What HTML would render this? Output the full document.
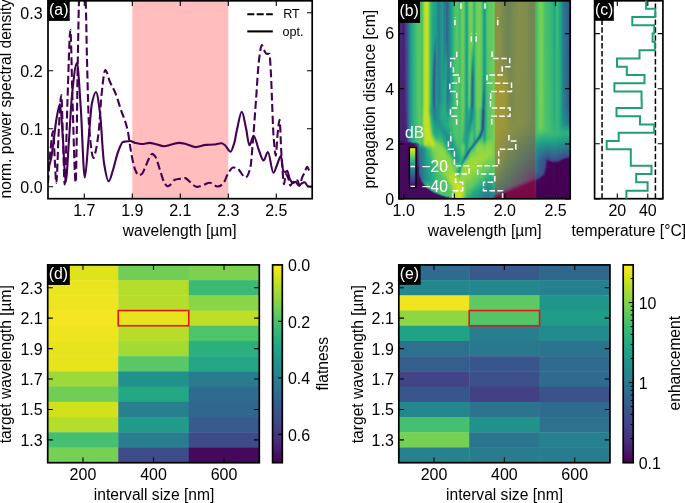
<!DOCTYPE html>
<html><head><meta charset="utf-8"><style>
html,body{margin:0;padding:0;background:#fff;}
svg{display:block;will-change:transform;}
text{font-family:"Liberation Sans", sans-serif;}
</style></head><body>
<svg width="685" height="503" viewBox="0 0 685 503">
<rect width="685" height="503" fill="#fff"/>
<clipPath id="ca"><rect x="48" y="0.8" width="264.2" height="197.9"/></clipPath>
<rect x="132.3" y="0.8" width="96" height="197.9" fill="rgba(255,0,0,0.26)"/>
<g clip-path="url(#ca)" fill="none" stroke="#440154" stroke-width="2.1" stroke-linejoin="round">
<path d="M48 183C48.83 172 49.67 157.85 50.5 150C51.37 141.83 52.23 131 53.1 131C53.67 131 54.23 150.86 54.8 160C55.3 168.07 55.8 183 56.3 183C57.13 183 57.97 144.05 58.8 130C59.63 115.95 60.47 95 61.3 95C61.87 95 62.43 125.1 63 140C63.57 154.9 64.13 184.4 64.7 184.4C65.63 184.4 66.57 125.04 67.5 100C68.47 74.07 69.43 30 70.4 30C71.1 30 71.8 79.47 72.5 100C73.57 131.29 74.63 182.5 75.7 182.5C76.4 182.5 77.1 97.43 77.8 60C78.2 38.61 78.6 11.5 79 0C80.1 -31.63 81.2 -60 82.3 -60C83.43 -60 84.57 -31 85.7 0C86.13 11.85 86.57 43.27 87 60C87.67 85.74 88.33 116.32 89 125C90.5 144.53 92 158 93.5 158C94.17 158 94.83 154.67 95.5 152C96.63 147.47 97.77 139.66 98.9 129.5C99.77 121.73 100.63 102.79 101.5 95C102.77 83.62 104.03 70 105.3 70C106.87 70 108.43 78.44 110 82C111.73 85.94 113.47 88.41 115.2 92.6C117.13 97.28 119.07 104.17 121 110C123.2 116.63 125.4 120.42 127.6 130C128.47 133.77 129.33 141.67 130.2 146.8C131.07 151.93 131.93 157.22 132.8 161C133.63 164.64 134.47 168.23 135.3 170.1C136.4 172.56 137.5 175.3 138.6 175.3C139.67 175.3 140.73 174.71 141.8 174C143.1 173.14 144.4 168.99 145.7 166.2C147 163.41 148.3 159.29 149.6 157.2C150.47 155.81 151.33 153.9 152.2 153.9C153.07 153.9 153.93 154.91 154.8 155.9C155.87 157.12 156.93 160.65 158 163.6C159.07 166.55 160.13 170.84 161.2 174C162.3 177.26 163.4 181.36 164.5 183C165.57 184.59 166.63 186.3 167.7 186.3C168.77 186.3 169.83 185.16 170.9 184.3C172.2 183.26 173.5 180.25 174.8 179.8C176.3 179.28 177.8 179.14 179.3 178.9C181.27 178.58 183.23 178.1 185.2 178.1C186.7 178.1 188.2 180.55 189.7 181.7C192.07 183.52 194.43 186.9 196.8 186.9C198.97 186.9 201.13 185.68 203.3 185C205.47 184.32 207.63 182.8 209.8 182.8C212.37 182.8 214.93 186.5 217.5 186.5C219.23 186.5 220.97 185.51 222.7 184.3C224.43 183.09 226.17 176.69 227.9 174C229.6 171.37 231.3 167.5 233 167.5C234.73 167.5 236.47 167.97 238.2 168.8C238.8 169.09 239.4 170.64 240 171.4C241.87 173.78 243.73 177.5 245.6 177.5C247.17 177.5 248.73 173.64 250.3 168C251.2 164.76 252.1 150.48 253 140C254 128.36 255 113.33 256 100C257 86.67 258 67.57 259 60C259.93 52.94 260.87 45.1 261.8 45.1C262.53 45.1 263.27 48.68 264 50C264.87 51.56 265.73 53.9 266.6 53.9C267.53 53.9 268.47 53.9 269.4 53.9C269.93 53.9 270.47 65.57 271 75C271.33 80.9 271.67 91.94 272 100C272.5 112.1 273 128.3 273.5 135C274.27 145.28 275.03 155.7 275.8 155.7C276.37 155.7 276.93 140.19 277.5 135C278.2 128.59 278.9 119.8 279.6 119.8C280.13 119.8 280.67 141.07 281.2 150C281.7 158.37 282.2 167 282.7 172.6C283.13 177.45 283.57 184.3 284 184.3C284.63 184.3 285.27 174 285.9 174C286.77 174 287.63 176.82 288.5 179C289.13 180.59 289.77 185.6 290.4 185.6C291.27 185.6 292.13 181.7 293 181.7C293.67 181.7 294.33 183 295 183C295.83 183 296.67 180.4 297.5 180.4C298.17 180.4 298.83 185.6 299.5 185.6C300.33 185.6 301.17 179.83 302 177.8C302.87 175.68 303.73 174.43 304.6 172.6C305.47 170.77 306.33 166.8 307.2 166.8C308.07 166.8 308.93 171.3 309.8 171.3C310.7 171.3 311.6 170.77 312.5 170.5" stroke-dasharray="8 3.6"/>
<path d="M48 168C48.93 165.33 49.87 163.74 50.8 160C51.7 156.39 52.6 148.49 53.5 142C54.43 135.27 55.37 125.28 56.3 120C57.53 113.03 58.77 104 60 104C61 104 62 126.18 63 140C63.87 151.98 64.73 182 65.6 182C66.73 182 67.87 155.39 69 140C70 126.42 71 104.4 72 95C73.63 79.65 75.27 63 76.9 63C78.13 63 79.37 88.18 80.6 105C82 124.09 83.4 177.5 84.8 177.5C86.03 177.5 87.27 152.77 88.5 140C89.67 127.92 90.83 108.16 92 103C93.33 97.1 94.67 92 96 92C97.33 92 98.67 103.14 100 113C101.33 122.86 102.67 154.85 104 163C105.53 172.37 107.07 181.3 108.6 181.3C110.07 181.3 111.53 174.38 113 170C114.67 165.02 116.33 156.29 118 152C119.67 147.71 121.33 142.54 123 142C123.67 141.78 124.33 141.7 125 141.6C126.73 141.34 128.47 141 130.2 141C131.9 141 133.6 142.5 135.3 142.9C137.47 143.41 139.63 144 141.8 144C144.4 144 147 142.9 149.6 142.9C151.73 142.9 153.87 143.72 156 144.2C158.6 144.79 161.2 146.2 163.8 146.2C166.4 146.2 169 145.05 171.6 144.5C174.17 143.95 176.73 142.9 179.3 142.9C181.7 142.9 184.1 143.65 186.5 144.2C189.5 144.89 192.5 147.1 195.5 147.1C198.97 147.1 202.43 145.18 205.9 144.9C208.47 144.69 211.03 144.7 213.6 144.5C216.2 144.3 218.8 143.3 221.4 143.3C222.7 143.3 224 144.52 225.3 145.5C227.03 146.81 228.77 151.7 230.5 151.7C231.77 151.7 233.03 146.99 234.3 142.9C235.17 140.1 236.03 133.75 236.9 130C238.53 122.94 240.17 111.7 241.8 111.7C243.2 111.7 244.6 121.81 246 128C247.13 133.01 248.27 145.3 249.4 145.3C250.83 145.3 252.27 135.9 253.7 135.9C255.4 135.9 257.1 145.85 258.8 150C260.4 153.9 262 160.5 263.6 160.5C265.03 160.5 266.47 152 267.9 152C269.73 152 271.57 172.7 273.4 172.7C274.6 172.7 275.8 167.67 277 165C278.33 162.03 279.67 155.7 281 155.7C281.77 155.7 282.53 170.9 283.3 171.3C284.17 171.76 285.03 172 285.9 172C286.33 172 286.77 170.7 287.2 170.7C288.07 170.7 288.93 177.54 289.8 179.1C290.87 181.02 291.93 183 293 183C293.87 183 294.73 181.7 295.6 181.7C296.67 181.7 297.73 185.6 298.8 185.6C299.67 185.6 300.53 184.07 301.4 183.6C302.47 183.03 303.53 182.3 304.6 182.3C305.7 182.3 306.8 185.93 307.9 186.2C309.43 186.58 310.97 186.6 312.5 186.8"/>
</g>
<rect x="48" y="0.8" width="264.2" height="197.9" fill="none" stroke="#000" stroke-width="1.7"/>
<path d="M84.3 198.7V193.5M84.3 0.8V6M132.3 198.7V193.5M132.3 0.8V6M180.3 198.7V193.5M180.3 0.8V6M228.3 198.7V193.5M228.3 0.8V6M276.3 198.7V193.5M276.3 0.8V6M48 186.8H53.2M312.2 186.8H307M48 128.8H53.2M312.2 128.8H307M48 70.8H53.2M312.2 70.8H307M48 12.8H53.2M312.2 12.8H307" stroke="#000" stroke-width="1.1" fill="none"/>
<text x="42.6" y="192.75" text-anchor="end" font-size="16" fill="#000" transform="translate(0 187.25) scale(1 1.05) translate(0 -187.25)">0.0</text>
<text x="42.6" y="134.75" text-anchor="end" font-size="16" fill="#000" transform="translate(0 129.25) scale(1 1.05) translate(0 -129.25)">0.1</text>
<text x="42.6" y="76.75" text-anchor="end" font-size="16" fill="#000" transform="translate(0 71.25) scale(1 1.05) translate(0 -71.25)">0.2</text>
<text x="42.6" y="18.75" text-anchor="end" font-size="16" fill="#000" transform="translate(0 13.25) scale(1 1.05) translate(0 -13.25)">0.3</text>
<text x="84.3" y="215.9" text-anchor="middle" font-size="16" fill="#000" transform="translate(0 210.4) scale(1 1.05) translate(0 -210.4)">1.7</text>
<text x="132.3" y="215.9" text-anchor="middle" font-size="16" fill="#000" transform="translate(0 210.4) scale(1 1.05) translate(0 -210.4)">1.9</text>
<text x="180.3" y="215.9" text-anchor="middle" font-size="16" fill="#000" transform="translate(0 210.4) scale(1 1.05) translate(0 -210.4)">2.1</text>
<text x="228.3" y="215.9" text-anchor="middle" font-size="16" fill="#000" transform="translate(0 210.4) scale(1 1.05) translate(0 -210.4)">2.3</text>
<text x="276.3" y="215.9" text-anchor="middle" font-size="16" fill="#000" transform="translate(0 210.4) scale(1 1.05) translate(0 -210.4)">2.5</text>
<text x="179.7" y="235.5" text-anchor="middle" font-size="15.6" fill="#000">wavelength [µm]</text>
<text x="10.9" y="98.8" text-anchor="middle" font-size="15.6" transform="rotate(-90 10.9 98.8)">norm. power spectral density</text>
<rect x="47.5" y="0.5" width="22.2" height="20.4" fill="#000"/><text x="49.1" y="14.6" font-size="15.8" fill="#fff">(a)</text>
<path d="M247.3 14.2H272.8" stroke="#000" stroke-width="2.1" stroke-dasharray="7 2.4"/>
<path d="M247.3 31.4H272.8" stroke="#000" stroke-width="2.1"/>
<text x="283.2" y="17.9" text-anchor="start" font-size="12.6" fill="#000">RT</text>
<text x="282.6" y="36.1" text-anchor="start" font-size="12.6" fill="#000">opt.</text>
<defs><linearGradient id="k0" x1="0" y1="0" x2="0" y2="1"><stop offset="0.0025" stop-color="#472d7b"/><stop offset="0.3593" stop-color="#482474"/><stop offset="0.7010" stop-color="#482071"/><stop offset="0.7060" stop-color="#460f62"/><stop offset="0.7412" stop-color="#45095c"/><stop offset="0.9975" stop-color="#45095c"/></linearGradient><linearGradient id="k1" x1="0" y1="0" x2="0" y2="1"><stop offset="0.0025" stop-color="#472d7b"/><stop offset="0.3593" stop-color="#482474"/><stop offset="0.7010" stop-color="#482172"/><stop offset="0.7111" stop-color="#460b5e"/><stop offset="0.9975" stop-color="#45095c"/></linearGradient><linearGradient id="k2" x1="0" y1="0" x2="0" y2="1"><stop offset="0.0025" stop-color="#472c7b"/><stop offset="0.7010" stop-color="#482373"/><stop offset="0.7060" stop-color="#481e6f"/><stop offset="0.7111" stop-color="#460d60"/><stop offset="0.9975" stop-color="#45095c"/></linearGradient><linearGradient id="k3" x1="0" y1="0" x2="0" y2="1"><stop offset="0.0025" stop-color="#472575"/><stop offset="0.7060" stop-color="#481f70"/><stop offset="0.7111" stop-color="#460e60"/><stop offset="0.9975" stop-color="#45095c"/></linearGradient><linearGradient id="k4" x1="0" y1="0" x2="0" y2="1"><stop offset="0.0025" stop-color="#481a6c"/><stop offset="0.3543" stop-color="#482373"/><stop offset="0.7060" stop-color="#481f70"/><stop offset="0.7111" stop-color="#460e60"/><stop offset="0.9975" stop-color="#45095c"/></linearGradient><linearGradient id="k5" x1="0" y1="0" x2="0" y2="1"><stop offset="0.0025" stop-color="#472e7c"/><stop offset="0.4598" stop-color="#472676"/><stop offset="0.7060" stop-color="#481f70"/><stop offset="0.7111" stop-color="#460f61"/><stop offset="0.7965" stop-color="#45095c"/><stop offset="0.9975" stop-color="#45095c"/></linearGradient><linearGradient id="k6" x1="0" y1="0" x2="0" y2="1"><stop offset="0.0025" stop-color="#424085"/><stop offset="0.3945" stop-color="#443982"/><stop offset="0.7060" stop-color="#482171"/><stop offset="0.7161" stop-color="#460b5d"/><stop offset="0.9975" stop-color="#45095c"/></linearGradient><linearGradient id="k7" x1="0" y1="0" x2="0" y2="1"><stop offset="0.0025" stop-color="#3d4c89"/><stop offset="0.5000" stop-color="#404587"/><stop offset="0.7060" stop-color="#472676"/><stop offset="0.7111" stop-color="#481f70"/><stop offset="0.7161" stop-color="#460e60"/><stop offset="0.9975" stop-color="#45095c"/></linearGradient><linearGradient id="k8" x1="0" y1="0" x2="0" y2="1"><stop offset="0.0025" stop-color="#375a8c"/><stop offset="0.5905" stop-color="#3a538b"/><stop offset="0.7060" stop-color="#433d83"/><stop offset="0.7111" stop-color="#46337f"/><stop offset="0.7161" stop-color="#471265"/><stop offset="0.7261" stop-color="#45095c"/><stop offset="0.9975" stop-color="#45095c"/></linearGradient><linearGradient id="k9" x1="0" y1="0" x2="0" y2="1"><stop offset="0.0025" stop-color="#2d6f8e"/><stop offset="0.6658" stop-color="#30698e"/><stop offset="0.7060" stop-color="#355e8d"/><stop offset="0.7111" stop-color="#3b528b"/><stop offset="0.7161" stop-color="#481b6d"/><stop offset="0.7211" stop-color="#45095c"/><stop offset="0.9975" stop-color="#45095c"/></linearGradient><linearGradient id="k10" x1="0" y1="0" x2="0" y2="1"><stop offset="0.0025" stop-color="#25858e"/><stop offset="0.7060" stop-color="#26838e"/><stop offset="0.7111" stop-color="#2d708e"/><stop offset="0.7161" stop-color="#482474"/><stop offset="0.7211" stop-color="#45095c"/><stop offset="0.9975" stop-color="#45095c"/></linearGradient><linearGradient id="k11" x1="0" y1="0" x2="0" y2="1"><stop offset="0.0025" stop-color="#20968b"/><stop offset="0.7060" stop-color="#20968b"/><stop offset="0.7111" stop-color="#26838e"/><stop offset="0.7161" stop-color="#472e7c"/><stop offset="0.7211" stop-color="#460b5e"/><stop offset="0.9975" stop-color="#45095c"/></linearGradient><linearGradient id="k12" x1="0" y1="0" x2="0" y2="1"><stop offset="0.0025" stop-color="#21a386"/><stop offset="0.7060" stop-color="#21a386"/><stop offset="0.7111" stop-color="#21958b"/><stop offset="0.7161" stop-color="#3b518b"/><stop offset="0.7211" stop-color="#471769"/><stop offset="0.7261" stop-color="#45095c"/><stop offset="0.9975" stop-color="#45095c"/></linearGradient><linearGradient id="k13" x1="0" y1="0" x2="0" y2="1"><stop offset="0.0025" stop-color="#26ab82"/><stop offset="0.7111" stop-color="#24a884"/><stop offset="0.7161" stop-color="#25868e"/><stop offset="0.7211" stop-color="#472878"/><stop offset="0.7261" stop-color="#450a5c"/><stop offset="0.9975" stop-color="#45095c"/></linearGradient><linearGradient id="k14" x1="0" y1="0" x2="0" y2="1"><stop offset="0.0025" stop-color="#2eb27c"/><stop offset="0.7111" stop-color="#2db17d"/><stop offset="0.7161" stop-color="#20998a"/><stop offset="0.7211" stop-color="#46317e"/><stop offset="0.7261" stop-color="#460e61"/><stop offset="0.9975" stop-color="#45095c"/></linearGradient><linearGradient id="k15" x1="0" y1="0" x2="0" y2="1"><stop offset="0.0025" stop-color="#37b778"/><stop offset="0.7111" stop-color="#36b678"/><stop offset="0.7161" stop-color="#1f9f88"/><stop offset="0.7211" stop-color="#433c83"/><stop offset="0.7261" stop-color="#481d6e"/><stop offset="0.7563" stop-color="#471163"/><stop offset="0.7814" stop-color="#45095c"/><stop offset="0.9975" stop-color="#45095c"/></linearGradient><linearGradient id="k16" x1="0" y1="0" x2="0" y2="1"><stop offset="0.0025" stop-color="#3fbc73"/><stop offset="0.7111" stop-color="#3dbb74"/><stop offset="0.7161" stop-color="#21a486"/><stop offset="0.7211" stop-color="#414587"/><stop offset="0.7261" stop-color="#472575"/><stop offset="0.7513" stop-color="#482373"/><stop offset="0.7663" stop-color="#450a5d"/><stop offset="0.9975" stop-color="#45095c"/></linearGradient><linearGradient id="k17" x1="0" y1="0" x2="0" y2="1"><stop offset="0.0025" stop-color="#47c06e"/><stop offset="0.7111" stop-color="#45be70"/><stop offset="0.7161" stop-color="#26aa82"/><stop offset="0.7211" stop-color="#375b8c"/><stop offset="0.7261" stop-color="#46327e"/><stop offset="0.7412" stop-color="#472575"/><stop offset="0.7764" stop-color="#471164"/><stop offset="0.9372" stop-color="#45095c"/><stop offset="0.9975" stop-color="#45095c"/></linearGradient><linearGradient id="k18" x1="0" y1="0" x2="0" y2="1"><stop offset="0.0025" stop-color="#4fc36a"/><stop offset="0.7111" stop-color="#4cc26c"/><stop offset="0.7161" stop-color="#35b679"/><stop offset="0.7211" stop-color="#25868d"/><stop offset="0.7261" stop-color="#3f4988"/><stop offset="0.7312" stop-color="#443a82"/><stop offset="0.8317" stop-color="#48186a"/><stop offset="0.8417" stop-color="#450a5d"/><stop offset="0.9975" stop-color="#45095c"/></linearGradient><linearGradient id="k19" x1="0" y1="0" x2="0" y2="1"><stop offset="0.0025" stop-color="#56c666"/><stop offset="0.7111" stop-color="#55c567"/><stop offset="0.7161" stop-color="#4ec26b"/><stop offset="0.7211" stop-color="#28ae80"/><stop offset="0.7261" stop-color="#2a778e"/><stop offset="0.7312" stop-color="#32638d"/><stop offset="0.7663" stop-color="#3e4b89"/><stop offset="0.8266" stop-color="#443982"/><stop offset="0.8417" stop-color="#481a6c"/><stop offset="0.8719" stop-color="#481a6c"/><stop offset="0.8970" stop-color="#45095c"/><stop offset="0.9975" stop-color="#45095c"/></linearGradient><linearGradient id="k20" x1="0" y1="0" x2="0" y2="1"><stop offset="0.0025" stop-color="#5bc864"/><stop offset="0.7161" stop-color="#5ac764"/><stop offset="0.7211" stop-color="#4ec26b"/><stop offset="0.7261" stop-color="#2eb27d"/><stop offset="0.7312" stop-color="#21a386"/><stop offset="0.7513" stop-color="#2e6e8e"/><stop offset="0.8467" stop-color="#3d4e8a"/><stop offset="0.8518" stop-color="#355d8d"/><stop offset="0.8769" stop-color="#3e4a89"/><stop offset="0.8869" stop-color="#481f70"/><stop offset="0.9020" stop-color="#450a5d"/><stop offset="0.9975" stop-color="#45095c"/></linearGradient><linearGradient id="k21" x1="0" y1="0" x2="0" y2="1"><stop offset="0.0025" stop-color="#54c567"/><stop offset="0.6809" stop-color="#55c567"/><stop offset="0.7211" stop-color="#4fc36a"/><stop offset="0.7312" stop-color="#29af7f"/><stop offset="0.7362" stop-color="#1fa088"/><stop offset="0.7513" stop-color="#29798e"/><stop offset="0.8467" stop-color="#2d708e"/><stop offset="0.8668" stop-color="#2d708e"/><stop offset="0.8769" stop-color="#306a8e"/><stop offset="0.8920" stop-color="#3e4a89"/><stop offset="0.9020" stop-color="#481a6c"/><stop offset="0.9171" stop-color="#450a5c"/><stop offset="0.9975" stop-color="#45095c"/></linearGradient><linearGradient id="k22" x1="0" y1="0" x2="0" y2="1"><stop offset="0.0025" stop-color="#47bf6f"/><stop offset="0.5352" stop-color="#4cc16c"/><stop offset="0.6256" stop-color="#55c567"/><stop offset="0.7211" stop-color="#43be71"/><stop offset="0.7362" stop-color="#1f9e88"/><stop offset="0.7513" stop-color="#287c8e"/><stop offset="0.8819" stop-color="#2b748e"/><stop offset="0.8920" stop-color="#306a8e"/><stop offset="0.9070" stop-color="#424286"/><stop offset="0.9171" stop-color="#471567"/><stop offset="0.9271" stop-color="#45095c"/><stop offset="0.9975" stop-color="#45095c"/></linearGradient><linearGradient id="k23" x1="0" y1="0" x2="0" y2="1"><stop offset="0.0025" stop-color="#52c468"/><stop offset="0.5251" stop-color="#57c666"/><stop offset="0.6156" stop-color="#72cf56"/><stop offset="0.7211" stop-color="#4ec26b"/><stop offset="0.7362" stop-color="#21a386"/><stop offset="0.7513" stop-color="#26828e"/><stop offset="0.8970" stop-color="#2b748e"/><stop offset="0.9070" stop-color="#2e6d8e"/><stop offset="0.9171" stop-color="#414387"/><stop offset="0.9221" stop-color="#481f70"/><stop offset="0.9271" stop-color="#460c5f"/><stop offset="0.9975" stop-color="#45095c"/></linearGradient><linearGradient id="k24" x1="0" y1="0" x2="0" y2="1"><stop offset="0.0025" stop-color="#80d34e"/><stop offset="0.5201" stop-color="#83d44b"/><stop offset="0.5905" stop-color="#9fd939"/><stop offset="0.6307" stop-color="#9bd83c"/><stop offset="0.7211" stop-color="#7ad151"/><stop offset="0.7312" stop-color="#48c06e"/><stop offset="0.7362" stop-color="#2cb07e"/><stop offset="0.7412" stop-color="#20a187"/><stop offset="0.7513" stop-color="#238b8d"/><stop offset="0.9020" stop-color="#277e8e"/><stop offset="0.9121" stop-color="#25848e"/><stop offset="0.9171" stop-color="#297a8e"/><stop offset="0.9221" stop-color="#38588c"/><stop offset="0.9271" stop-color="#472b7a"/><stop offset="0.9322" stop-color="#460f62"/><stop offset="0.9673" stop-color="#45095c"/><stop offset="0.9975" stop-color="#45095c"/></linearGradient><linearGradient id="k25" x1="0" y1="0" x2="0" y2="1"><stop offset="0.0025" stop-color="#abdc31"/><stop offset="0.5302" stop-color="#b0dc2e"/><stop offset="0.5955" stop-color="#bfdf26"/><stop offset="0.7211" stop-color="#a4da36"/><stop offset="0.7261" stop-color="#8dd645"/><stop offset="0.7362" stop-color="#42bd71"/><stop offset="0.7412" stop-color="#27ad81"/><stop offset="0.7513" stop-color="#20968b"/><stop offset="0.9020" stop-color="#25848e"/><stop offset="0.9171" stop-color="#20978a"/><stop offset="0.9221" stop-color="#21938c"/><stop offset="0.9271" stop-color="#2c728e"/><stop offset="0.9322" stop-color="#453781"/><stop offset="0.9372" stop-color="#471467"/><stop offset="0.9472" stop-color="#45095c"/><stop offset="0.9975" stop-color="#45095c"/></linearGradient><linearGradient id="k26" x1="0" y1="0" x2="0" y2="1"><stop offset="0.0025" stop-color="#c2df25"/><stop offset="0.5553" stop-color="#c6e022"/><stop offset="0.6558" stop-color="#c2df25"/><stop offset="0.7211" stop-color="#b9de2a"/><stop offset="0.7261" stop-color="#a3da36"/><stop offset="0.7412" stop-color="#36b778"/><stop offset="0.7462" stop-color="#25a983"/><stop offset="0.7663" stop-color="#209b89"/><stop offset="0.9020" stop-color="#24898d"/><stop offset="0.9221" stop-color="#23a784"/><stop offset="0.9271" stop-color="#22a585"/><stop offset="0.9322" stop-color="#27808e"/><stop offset="0.9372" stop-color="#3f4888"/><stop offset="0.9422" stop-color="#481d6f"/><stop offset="0.9472" stop-color="#460c5e"/><stop offset="0.9975" stop-color="#45095c"/></linearGradient><linearGradient id="k27" x1="0" y1="0" x2="0" y2="1"><stop offset="0.0025" stop-color="#cae020"/><stop offset="0.5603" stop-color="#c9e021"/><stop offset="0.6809" stop-color="#c4df24"/><stop offset="0.7211" stop-color="#bfdf26"/><stop offset="0.7261" stop-color="#aedc30"/><stop offset="0.7412" stop-color="#48c06e"/><stop offset="0.7462" stop-color="#31b37b"/><stop offset="0.7563" stop-color="#24a884"/><stop offset="0.9020" stop-color="#228f8c"/><stop offset="0.9221" stop-color="#25aa82"/><stop offset="0.9271" stop-color="#31b37b"/><stop offset="0.9322" stop-color="#2fb37c"/><stop offset="0.9372" stop-color="#20978a"/><stop offset="0.9422" stop-color="#38598c"/><stop offset="0.9472" stop-color="#481d6e"/><stop offset="0.9523" stop-color="#450a5d"/><stop offset="0.9975" stop-color="#45095c"/></linearGradient><linearGradient id="k28" x1="0" y1="0" x2="0" y2="1"><stop offset="0.0025" stop-color="#c2df25"/><stop offset="0.5251" stop-color="#bede27"/><stop offset="0.5553" stop-color="#bcde28"/><stop offset="0.6005" stop-color="#c7e022"/><stop offset="0.6859" stop-color="#c7e022"/><stop offset="0.7211" stop-color="#bbde28"/><stop offset="0.7261" stop-color="#aedc2f"/><stop offset="0.7362" stop-color="#78d152"/><stop offset="0.7462" stop-color="#40bc73"/><stop offset="0.7563" stop-color="#2eb17d"/><stop offset="0.8367" stop-color="#1f9f88"/><stop offset="0.9070" stop-color="#20978a"/><stop offset="0.9221" stop-color="#26aa82"/><stop offset="0.9322" stop-color="#41bd72"/><stop offset="0.9372" stop-color="#46bf6f"/><stop offset="0.9422" stop-color="#21a386"/><stop offset="0.9472" stop-color="#3e4a89"/><stop offset="0.9523" stop-color="#471365"/><stop offset="0.9623" stop-color="#45095c"/><stop offset="0.9975" stop-color="#45095c"/></linearGradient><linearGradient id="k29" x1="0" y1="0" x2="0" y2="1"><stop offset="0.0025" stop-color="#9dd93b"/><stop offset="0.5251" stop-color="#99d83d"/><stop offset="0.5503" stop-color="#93d741"/><stop offset="0.5854" stop-color="#b0dc2f"/><stop offset="0.6859" stop-color="#cae020"/><stop offset="0.7211" stop-color="#b2dd2d"/><stop offset="0.7312" stop-color="#96d73f"/><stop offset="0.7462" stop-color="#4cc16c"/><stop offset="0.7563" stop-color="#38b877"/><stop offset="0.8015" stop-color="#25a983"/><stop offset="0.9070" stop-color="#209b89"/><stop offset="0.9271" stop-color="#2cb17e"/><stop offset="0.9372" stop-color="#4bc16c"/><stop offset="0.9422" stop-color="#45be70"/><stop offset="0.9472" stop-color="#228d8c"/><stop offset="0.9523" stop-color="#46337f"/><stop offset="0.9573" stop-color="#460d5f"/><stop offset="0.9975" stop-color="#45095c"/></linearGradient><linearGradient id="k30" x1="0" y1="0" x2="0" y2="1"><stop offset="0.0025" stop-color="#6acd5b"/><stop offset="0.5251" stop-color="#65cb5e"/><stop offset="0.5503" stop-color="#58c765"/><stop offset="0.6106" stop-color="#93d741"/><stop offset="0.6910" stop-color="#cae021"/><stop offset="0.7161" stop-color="#bcde28"/><stop offset="0.7312" stop-color="#9ad83d"/><stop offset="0.7462" stop-color="#54c567"/><stop offset="0.7563" stop-color="#3fbc73"/><stop offset="0.8166" stop-color="#25aa82"/><stop offset="0.9070" stop-color="#1f9e89"/><stop offset="0.9271" stop-color="#28ae80"/><stop offset="0.9422" stop-color="#49c06d"/><stop offset="0.9472" stop-color="#2eb17d"/><stop offset="0.9523" stop-color="#32658d"/><stop offset="0.9573" stop-color="#481e6f"/><stop offset="0.9623" stop-color="#450a5c"/><stop offset="0.9975" stop-color="#45095c"/></linearGradient><linearGradient id="k31" x1="0" y1="0" x2="0" y2="1"><stop offset="0.0025" stop-color="#45be70"/><stop offset="0.5251" stop-color="#3dbb74"/><stop offset="0.5503" stop-color="#2db17d"/><stop offset="0.6608" stop-color="#93d741"/><stop offset="0.6960" stop-color="#c7e022"/><stop offset="0.7161" stop-color="#c5df23"/><stop offset="0.7261" stop-color="#b8dd2a"/><stop offset="0.7362" stop-color="#90d643"/><stop offset="0.7462" stop-color="#60ca61"/><stop offset="0.7613" stop-color="#46bf6f"/><stop offset="0.8317" stop-color="#26ab82"/><stop offset="0.9121" stop-color="#21a386"/><stop offset="0.9322" stop-color="#2fb27c"/><stop offset="0.9422" stop-color="#41bd72"/><stop offset="0.9472" stop-color="#42bd71"/><stop offset="0.9523" stop-color="#1fa088"/><stop offset="0.9573" stop-color="#404688"/><stop offset="0.9623" stop-color="#471163"/><stop offset="0.9724" stop-color="#45095c"/><stop offset="0.9975" stop-color="#45095c"/></linearGradient><linearGradient id="k32" x1="0" y1="0" x2="0" y2="1"><stop offset="0.0025" stop-color="#30b37b"/><stop offset="0.3744" stop-color="#28ae80"/><stop offset="0.5352" stop-color="#22a585"/><stop offset="0.5603" stop-color="#20a187"/><stop offset="0.6055" stop-color="#37b777"/><stop offset="0.6658" stop-color="#6ccd5a"/><stop offset="0.6960" stop-color="#b8de2a"/><stop offset="0.7161" stop-color="#c9e021"/><stop offset="0.7261" stop-color="#c4df24"/><stop offset="0.7362" stop-color="#9ed93a"/><stop offset="0.7462" stop-color="#71ce57"/><stop offset="0.7563" stop-color="#5bc864"/><stop offset="0.8367" stop-color="#28ae80"/><stop offset="0.9171" stop-color="#24a884"/><stop offset="0.9322" stop-color="#2eb27d"/><stop offset="0.9472" stop-color="#43be71"/><stop offset="0.9523" stop-color="#35b678"/><stop offset="0.9573" stop-color="#26828e"/><stop offset="0.9623" stop-color="#472e7c"/><stop offset="0.9673" stop-color="#460c5f"/><stop offset="0.9975" stop-color="#45095c"/></linearGradient><linearGradient id="k33" x1="0" y1="0" x2="0" y2="1"><stop offset="0.0025" stop-color="#27ac81"/><stop offset="0.2789" stop-color="#22a486"/><stop offset="0.4397" stop-color="#24898d"/><stop offset="0.5151" stop-color="#238b8d"/><stop offset="0.5704" stop-color="#20958b"/><stop offset="0.6256" stop-color="#2bb07e"/><stop offset="0.6658" stop-color="#44be70"/><stop offset="0.6809" stop-color="#69cc5b"/><stop offset="0.7010" stop-color="#acdc31"/><stop offset="0.7211" stop-color="#c6e023"/><stop offset="0.7261" stop-color="#c4df24"/><stop offset="0.7362" stop-color="#a3da37"/><stop offset="0.7462" stop-color="#7ed24f"/><stop offset="0.7663" stop-color="#64cb5f"/><stop offset="0.8116" stop-color="#40bd72"/><stop offset="0.8467" stop-color="#2bb07e"/><stop offset="0.9221" stop-color="#27ac81"/><stop offset="0.9523" stop-color="#42bd71"/><stop offset="0.9573" stop-color="#25aa82"/><stop offset="0.9623" stop-color="#355d8d"/><stop offset="0.9673" stop-color="#481c6e"/><stop offset="0.9724" stop-color="#450a5c"/><stop offset="0.9975" stop-color="#45095c"/></linearGradient><linearGradient id="k34" x1="0" y1="0" x2="0" y2="1"><stop offset="0.0025" stop-color="#24a883"/><stop offset="0.2136" stop-color="#20a287"/><stop offset="0.3945" stop-color="#345f8d"/><stop offset="0.5151" stop-color="#34608d"/><stop offset="0.5553" stop-color="#27808e"/><stop offset="0.6256" stop-color="#23a684"/><stop offset="0.6658" stop-color="#2eb27c"/><stop offset="0.6809" stop-color="#48c06e"/><stop offset="0.7060" stop-color="#a0d939"/><stop offset="0.7211" stop-color="#bade29"/><stop offset="0.7312" stop-color="#afdc2f"/><stop offset="0.7462" stop-color="#85d44a"/><stop offset="0.8065" stop-color="#58c665"/><stop offset="0.8367" stop-color="#34b579"/><stop offset="0.9171" stop-color="#28ae80"/><stop offset="0.9523" stop-color="#45bf70"/><stop offset="0.9573" stop-color="#3dbb74"/><stop offset="0.9623" stop-color="#209a8a"/><stop offset="0.9673" stop-color="#414286"/><stop offset="0.9724" stop-color="#461062"/><stop offset="0.9874" stop-color="#45095c"/><stop offset="0.9975" stop-color="#45095c"/></linearGradient><linearGradient id="k35" x1="0" y1="0" x2="0" y2="1"><stop offset="0.0025" stop-color="#23a685"/><stop offset="0.1834" stop-color="#1f9f88"/><stop offset="0.3241" stop-color="#37598c"/><stop offset="0.5251" stop-color="#34618d"/><stop offset="0.5553" stop-color="#29798e"/><stop offset="0.5905" stop-color="#25858e"/><stop offset="0.6307" stop-color="#20a187"/><stop offset="0.6759" stop-color="#2aaf7f"/><stop offset="0.6910" stop-color="#4ec26b"/><stop offset="0.7111" stop-color="#95d740"/><stop offset="0.7211" stop-color="#a7db34"/><stop offset="0.7312" stop-color="#a2da37"/><stop offset="0.7513" stop-color="#84d44b"/><stop offset="0.8015" stop-color="#6fce58"/><stop offset="0.8367" stop-color="#3cba75"/><stop offset="0.9171" stop-color="#2cb17e"/><stop offset="0.9573" stop-color="#45bf70"/><stop offset="0.9623" stop-color="#32b47a"/><stop offset="0.9673" stop-color="#287c8e"/><stop offset="0.9724" stop-color="#482474"/><stop offset="0.9774" stop-color="#45095c"/><stop offset="0.9975" stop-color="#45095c"/></linearGradient><linearGradient id="k36" x1="0" y1="0" x2="0" y2="1"><stop offset="0.0025" stop-color="#20a287"/><stop offset="0.1683" stop-color="#209b89"/><stop offset="0.2990" stop-color="#2d6f8e"/><stop offset="0.4548" stop-color="#25848e"/><stop offset="0.5905" stop-color="#26818e"/><stop offset="0.6407" stop-color="#1f9e88"/><stop offset="0.6809" stop-color="#27ac81"/><stop offset="0.6960" stop-color="#49c06e"/><stop offset="0.7161" stop-color="#8cd646"/><stop offset="0.7261" stop-color="#98d83e"/><stop offset="0.7613" stop-color="#84d44b"/><stop offset="0.8065" stop-color="#76d053"/><stop offset="0.8417" stop-color="#3fbc73"/><stop offset="0.9221" stop-color="#32b47b"/><stop offset="0.9573" stop-color="#47bf6f"/><stop offset="0.9623" stop-color="#42bd72"/><stop offset="0.9673" stop-color="#1fa188"/><stop offset="0.9724" stop-color="#443881"/><stop offset="0.9774" stop-color="#460c5f"/><stop offset="0.9975" stop-color="#45095c"/></linearGradient><linearGradient id="k37" x1="0" y1="0" x2="0" y2="1"><stop offset="0.0025" stop-color="#209b89"/><stop offset="0.1734" stop-color="#21948b"/><stop offset="0.2990" stop-color="#24898d"/><stop offset="0.5151" stop-color="#20958b"/><stop offset="0.5955" stop-color="#24898d"/><stop offset="0.6759" stop-color="#24a884"/><stop offset="0.6910" stop-color="#30b37b"/><stop offset="0.7211" stop-color="#86d449"/><stop offset="0.7412" stop-color="#8ad547"/><stop offset="0.8065" stop-color="#80d34d"/><stop offset="0.8518" stop-color="#41bd72"/><stop offset="0.9221" stop-color="#36b778"/><stop offset="0.9573" stop-color="#49c06e"/><stop offset="0.9623" stop-color="#48c06e"/><stop offset="0.9673" stop-color="#2aaf7f"/><stop offset="0.9724" stop-color="#355d8d"/><stop offset="0.9774" stop-color="#481a6c"/><stop offset="0.9824" stop-color="#45095c"/><stop offset="0.9975" stop-color="#45095c"/></linearGradient><linearGradient id="k38" x1="0" y1="0" x2="0" y2="1"><stop offset="0.0025" stop-color="#228d8d"/><stop offset="0.5000" stop-color="#228e8c"/><stop offset="0.5804" stop-color="#228f8c"/><stop offset="0.6357" stop-color="#20998a"/><stop offset="0.6859" stop-color="#28ae80"/><stop offset="0.7010" stop-color="#41bd72"/><stop offset="0.7211" stop-color="#7cd250"/><stop offset="0.7362" stop-color="#8ad547"/><stop offset="0.8116" stop-color="#85d44b"/><stop offset="0.8367" stop-color="#63cb5f"/><stop offset="0.8618" stop-color="#44be70"/><stop offset="0.9271" stop-color="#3cba75"/><stop offset="0.9623" stop-color="#4bc16c"/><stop offset="0.9673" stop-color="#41bd72"/><stop offset="0.9724" stop-color="#20988a"/><stop offset="0.9774" stop-color="#472e7c"/><stop offset="0.9824" stop-color="#450a5c"/><stop offset="0.9975" stop-color="#45095c"/></linearGradient><linearGradient id="k39" x1="0" y1="0" x2="0" y2="1"><stop offset="0.0025" stop-color="#277e8e"/><stop offset="0.5000" stop-color="#26838e"/><stop offset="0.5704" stop-color="#20958b"/><stop offset="0.6307" stop-color="#21948b"/><stop offset="0.6809" stop-color="#28ad80"/><stop offset="0.7010" stop-color="#3dbb74"/><stop offset="0.7261" stop-color="#7ed24f"/><stop offset="0.7462" stop-color="#8cd646"/><stop offset="0.8216" stop-color="#86d44a"/><stop offset="0.8668" stop-color="#4bc16d"/><stop offset="0.9271" stop-color="#41bd72"/><stop offset="0.9623" stop-color="#4ec26b"/><stop offset="0.9673" stop-color="#4dc26b"/><stop offset="0.9724" stop-color="#26aa82"/><stop offset="0.9774" stop-color="#414387"/><stop offset="0.9824" stop-color="#460f61"/><stop offset="0.9975" stop-color="#45095c"/></linearGradient><linearGradient id="k40" x1="0" y1="0" x2="0" y2="1"><stop offset="0.0025" stop-color="#26838e"/><stop offset="0.5000" stop-color="#24878d"/><stop offset="0.5704" stop-color="#1f9c89"/><stop offset="0.6357" stop-color="#21948b"/><stop offset="0.6809" stop-color="#28ae80"/><stop offset="0.7060" stop-color="#44be70"/><stop offset="0.7312" stop-color="#81d34d"/><stop offset="0.7563" stop-color="#8ed644"/><stop offset="0.8266" stop-color="#89d547"/><stop offset="0.8568" stop-color="#62ca60"/><stop offset="0.8869" stop-color="#49c06e"/><stop offset="0.9372" stop-color="#49c06e"/><stop offset="0.9673" stop-color="#50c36a"/><stop offset="0.9724" stop-color="#38b877"/><stop offset="0.9774" stop-color="#2a788e"/><stop offset="0.9824" stop-color="#482273"/><stop offset="0.9874" stop-color="#45095c"/><stop offset="0.9975" stop-color="#45095c"/></linearGradient><linearGradient id="k41" x1="0" y1="0" x2="0" y2="1"><stop offset="0.0025" stop-color="#238c8d"/><stop offset="0.5050" stop-color="#21918c"/><stop offset="0.5754" stop-color="#21a386"/><stop offset="0.6407" stop-color="#21948b"/><stop offset="0.6809" stop-color="#27ac81"/><stop offset="0.7060" stop-color="#3ebb74"/><stop offset="0.7362" stop-color="#83d44c"/><stop offset="0.7613" stop-color="#8fd644"/><stop offset="0.8367" stop-color="#89d548"/><stop offset="0.8819" stop-color="#51c369"/><stop offset="0.9322" stop-color="#4ac16d"/><stop offset="0.9673" stop-color="#52c469"/><stop offset="0.9724" stop-color="#4dc26b"/><stop offset="0.9774" stop-color="#21a386"/><stop offset="0.9824" stop-color="#453580"/><stop offset="0.9874" stop-color="#460b5e"/><stop offset="0.9975" stop-color="#45095c"/></linearGradient><linearGradient id="k42" x1="0" y1="0" x2="0" y2="1"><stop offset="0.0025" stop-color="#20958b"/><stop offset="0.5050" stop-color="#209b89"/><stop offset="0.5754" stop-color="#26aa82"/><stop offset="0.6457" stop-color="#21948b"/><stop offset="0.6859" stop-color="#26ab82"/><stop offset="0.7111" stop-color="#40bc72"/><stop offset="0.7412" stop-color="#85d44a"/><stop offset="0.7714" stop-color="#91d643"/><stop offset="0.8417" stop-color="#8cd546"/><stop offset="0.8920" stop-color="#51c369"/><stop offset="0.9422" stop-color="#4fc36a"/><stop offset="0.9724" stop-color="#52c469"/><stop offset="0.9774" stop-color="#2cb17e"/><stop offset="0.9824" stop-color="#3b538b"/><stop offset="0.9874" stop-color="#471567"/><stop offset="0.9925" stop-color="#45095c"/><stop offset="0.9975" stop-color="#45095c"/></linearGradient><linearGradient id="k43" x1="0" y1="0" x2="0" y2="1"><stop offset="0.0025" stop-color="#20988a"/><stop offset="0.5050" stop-color="#21a287"/><stop offset="0.5754" stop-color="#29af7f"/><stop offset="0.6256" stop-color="#1f9d89"/><stop offset="0.6558" stop-color="#21948b"/><stop offset="0.6960" stop-color="#27ad80"/><stop offset="0.7211" stop-color="#4bc16c"/><stop offset="0.7462" stop-color="#85d44a"/><stop offset="0.7764" stop-color="#91d742"/><stop offset="0.8518" stop-color="#8ad547"/><stop offset="0.8970" stop-color="#53c468"/><stop offset="0.9472" stop-color="#52c469"/><stop offset="0.9724" stop-color="#53c468"/><stop offset="0.9774" stop-color="#44be70"/><stop offset="0.9824" stop-color="#228f8c"/><stop offset="0.9874" stop-color="#472a79"/><stop offset="0.9925" stop-color="#450a5c"/><stop offset="0.9975" stop-color="#45095c"/></linearGradient><linearGradient id="k44" x1="0" y1="0" x2="0" y2="1"><stop offset="0.0025" stop-color="#24878d"/><stop offset="0.2940" stop-color="#228f8c"/><stop offset="0.5151" stop-color="#22a585"/><stop offset="0.5603" stop-color="#28ae80"/><stop offset="0.6206" stop-color="#22a486"/><stop offset="0.6608" stop-color="#21938c"/><stop offset="0.7060" stop-color="#26ab82"/><stop offset="0.7261" stop-color="#44be70"/><stop offset="0.7462" stop-color="#79d152"/><stop offset="0.7663" stop-color="#8dd645"/><stop offset="0.8568" stop-color="#8ad547"/><stop offset="0.9020" stop-color="#52c468"/><stop offset="0.9774" stop-color="#4fc36a"/><stop offset="0.9824" stop-color="#24a884"/><stop offset="0.9874" stop-color="#453781"/><stop offset="0.9925" stop-color="#460b5e"/><stop offset="0.9975" stop-color="#45095c"/></linearGradient><linearGradient id="k45" x1="0" y1="0" x2="0" y2="1"><stop offset="0.0025" stop-color="#297a8e"/><stop offset="0.2387" stop-color="#26818e"/><stop offset="0.3894" stop-color="#209c89"/><stop offset="0.5352" stop-color="#28ad80"/><stop offset="0.5553" stop-color="#2cb17e"/><stop offset="0.5754" stop-color="#24a883"/><stop offset="0.6156" stop-color="#25aa82"/><stop offset="0.6709" stop-color="#21928c"/><stop offset="0.7111" stop-color="#23a784"/><stop offset="0.7261" stop-color="#34b579"/><stop offset="0.7563" stop-color="#7dd24f"/><stop offset="0.7864" stop-color="#8ed645"/><stop offset="0.8618" stop-color="#8ad547"/><stop offset="0.9070" stop-color="#53c468"/><stop offset="0.9623" stop-color="#50c36a"/><stop offset="0.9774" stop-color="#4fc36a"/><stop offset="0.9824" stop-color="#2cb07e"/><stop offset="0.9874" stop-color="#3a558b"/><stop offset="0.9925" stop-color="#471668"/><stop offset="0.9975" stop-color="#45095c"/></linearGradient><linearGradient id="k46" x1="0" y1="0" x2="0" y2="1"><stop offset="0.0025" stop-color="#297b8e"/><stop offset="0.2186" stop-color="#27818e"/><stop offset="0.3543" stop-color="#20a287"/><stop offset="0.5251" stop-color="#23a685"/><stop offset="0.5603" stop-color="#26aa82"/><stop offset="0.6206" stop-color="#27ac81"/><stop offset="0.6759" stop-color="#21928c"/><stop offset="0.7211" stop-color="#24a883"/><stop offset="0.7362" stop-color="#3cba75"/><stop offset="0.7613" stop-color="#79d152"/><stop offset="0.7864" stop-color="#8cd645"/><stop offset="0.8719" stop-color="#89d548"/><stop offset="0.9171" stop-color="#52c469"/><stop offset="0.9774" stop-color="#50c36a"/><stop offset="0.9824" stop-color="#42bd71"/><stop offset="0.9874" stop-color="#21918c"/><stop offset="0.9925" stop-color="#472b79"/><stop offset="0.9975" stop-color="#450a5c"/></linearGradient><linearGradient id="k47" x1="0" y1="0" x2="0" y2="1"><stop offset="0.0025" stop-color="#33638d"/><stop offset="0.2035" stop-color="#31688d"/><stop offset="0.3291" stop-color="#20988a"/><stop offset="0.5101" stop-color="#238c8d"/><stop offset="0.5854" stop-color="#23a784"/><stop offset="0.6256" stop-color="#25a983"/><stop offset="0.6859" stop-color="#21908c"/><stop offset="0.7261" stop-color="#21a386"/><stop offset="0.7412" stop-color="#33b57a"/><stop offset="0.7714" stop-color="#78d052"/><stop offset="0.7965" stop-color="#8bd547"/><stop offset="0.8819" stop-color="#88d548"/><stop offset="0.9221" stop-color="#50c36a"/><stop offset="0.9824" stop-color="#4cc16c"/><stop offset="0.9874" stop-color="#23a685"/><stop offset="0.9925" stop-color="#46327f"/><stop offset="0.9975" stop-color="#450a5c"/></linearGradient><linearGradient id="k48" x1="0" y1="0" x2="0" y2="1"><stop offset="0.0025" stop-color="#33628d"/><stop offset="0.2085" stop-color="#31688d"/><stop offset="0.3241" stop-color="#24878d"/><stop offset="0.5000" stop-color="#29798e"/><stop offset="0.5804" stop-color="#22a485"/><stop offset="0.6256" stop-color="#26ab82"/><stop offset="0.6960" stop-color="#21908c"/><stop offset="0.7312" stop-color="#1fa088"/><stop offset="0.7462" stop-color="#2db17d"/><stop offset="0.7814" stop-color="#7ad151"/><stop offset="0.8116" stop-color="#8bd546"/><stop offset="0.8920" stop-color="#8ed644"/><stop offset="0.9221" stop-color="#56c667"/><stop offset="0.9573" stop-color="#4dc26b"/><stop offset="0.9824" stop-color="#4dc26b"/><stop offset="0.9874" stop-color="#25a983"/><stop offset="0.9925" stop-color="#453480"/><stop offset="0.9975" stop-color="#450a5d"/></linearGradient><linearGradient id="k49" x1="0" y1="0" x2="0" y2="1"><stop offset="0.0025" stop-color="#2b758e"/><stop offset="0.2437" stop-color="#287c8e"/><stop offset="0.3945" stop-color="#277f8e"/><stop offset="0.5000" stop-color="#277e8e"/><stop offset="0.5704" stop-color="#22a585"/><stop offset="0.6206" stop-color="#2db17d"/><stop offset="0.6859" stop-color="#20958b"/><stop offset="0.7261" stop-color="#20978a"/><stop offset="0.7513" stop-color="#29ae80"/><stop offset="0.7864" stop-color="#77d053"/><stop offset="0.8116" stop-color="#8cd546"/><stop offset="0.8719" stop-color="#96d73f"/><stop offset="0.8920" stop-color="#9fd939"/><stop offset="0.9070" stop-color="#86d449"/><stop offset="0.9271" stop-color="#5bc864"/><stop offset="0.9573" stop-color="#50c36a"/><stop offset="0.9824" stop-color="#4fc36a"/><stop offset="0.9874" stop-color="#27ad81"/><stop offset="0.9925" stop-color="#3f4888"/><stop offset="0.9975" stop-color="#461163"/></linearGradient><linearGradient id="k50" x1="0" y1="0" x2="0" y2="1"><stop offset="0.0025" stop-color="#24878d"/><stop offset="0.5050" stop-color="#228d8c"/><stop offset="0.5603" stop-color="#24a784"/><stop offset="0.6206" stop-color="#35b679"/><stop offset="0.6759" stop-color="#21a287"/><stop offset="0.7211" stop-color="#21938b"/><stop offset="0.7513" stop-color="#23a685"/><stop offset="0.7663" stop-color="#38b877"/><stop offset="0.7965" stop-color="#7cd250"/><stop offset="0.8266" stop-color="#8ed644"/><stop offset="0.8668" stop-color="#96d73f"/><stop offset="0.8920" stop-color="#acdc30"/><stop offset="0.9070" stop-color="#9ad83d"/><stop offset="0.9322" stop-color="#62ca60"/><stop offset="0.9623" stop-color="#54c568"/><stop offset="0.9824" stop-color="#53c468"/><stop offset="0.9874" stop-color="#3dbb74"/><stop offset="0.9925" stop-color="#26818e"/><stop offset="0.9975" stop-color="#472575"/></linearGradient><linearGradient id="k51" x1="0" y1="0" x2="0" y2="1"><stop offset="0.0025" stop-color="#20958b"/><stop offset="0.5050" stop-color="#20998a"/><stop offset="0.5704" stop-color="#2db17d"/><stop offset="0.6206" stop-color="#3ab976"/><stop offset="0.6658" stop-color="#2bb07e"/><stop offset="0.7060" stop-color="#20998a"/><stop offset="0.7412" stop-color="#20978a"/><stop offset="0.7663" stop-color="#28ae80"/><stop offset="0.8015" stop-color="#78d052"/><stop offset="0.8266" stop-color="#8cd645"/><stop offset="0.8668" stop-color="#98d83e"/><stop offset="0.8920" stop-color="#b7dd2b"/><stop offset="0.9070" stop-color="#a9db33"/><stop offset="0.9372" stop-color="#6bcd5a"/><stop offset="0.9673" stop-color="#5ac764"/><stop offset="0.9874" stop-color="#53c468"/><stop offset="0.9925" stop-color="#23a685"/><stop offset="0.9975" stop-color="#46337f"/></linearGradient><linearGradient id="k52" x1="0" y1="0" x2="0" y2="1"><stop offset="0.0025" stop-color="#1fa088"/><stop offset="0.5151" stop-color="#22a585"/><stop offset="0.6206" stop-color="#3fbc73"/><stop offset="0.6709" stop-color="#31b37b"/><stop offset="0.7161" stop-color="#209a8a"/><stop offset="0.7513" stop-color="#20988a"/><stop offset="0.7764" stop-color="#2aaf7f"/><stop offset="0.8116" stop-color="#78d152"/><stop offset="0.8417" stop-color="#8ed644"/><stop offset="0.8719" stop-color="#9fd939"/><stop offset="0.8920" stop-color="#bcde28"/><stop offset="0.9121" stop-color="#addc30"/><stop offset="0.9472" stop-color="#72cf56"/><stop offset="0.9874" stop-color="#5dc962"/><stop offset="0.9925" stop-color="#2aaf7f"/><stop offset="0.9975" stop-color="#443a82"/></linearGradient><linearGradient id="k53" x1="0" y1="0" x2="0" y2="1"><stop offset="0.0025" stop-color="#25aa82"/><stop offset="0.5201" stop-color="#29af7f"/><stop offset="0.6206" stop-color="#45be70"/><stop offset="0.6759" stop-color="#37b777"/><stop offset="0.7211" stop-color="#1f9e88"/><stop offset="0.7563" stop-color="#20978a"/><stop offset="0.7814" stop-color="#25aa82"/><stop offset="0.8166" stop-color="#6fce58"/><stop offset="0.8417" stop-color="#89d548"/><stop offset="0.8668" stop-color="#96d83f"/><stop offset="0.8920" stop-color="#bdde28"/><stop offset="0.9121" stop-color="#b8dd2a"/><stop offset="0.9623" stop-color="#7ad151"/><stop offset="0.9874" stop-color="#6ccd5a"/><stop offset="0.9925" stop-color="#3ab976"/><stop offset="0.9975" stop-color="#365b8c"/></linearGradient><linearGradient id="k54" x1="0" y1="0" x2="0" y2="1"><stop offset="0.0025" stop-color="#34b579"/><stop offset="0.5201" stop-color="#38b877"/><stop offset="0.6307" stop-color="#4bc16d"/><stop offset="0.6859" stop-color="#3cba75"/><stop offset="0.7312" stop-color="#1fa088"/><stop offset="0.7663" stop-color="#20978a"/><stop offset="0.7915" stop-color="#26ab82"/><stop offset="0.8317" stop-color="#77d053"/><stop offset="0.8668" stop-color="#90d643"/><stop offset="0.8920" stop-color="#b9de2a"/><stop offset="0.9171" stop-color="#bbde28"/><stop offset="0.9824" stop-color="#83d44c"/><stop offset="0.9874" stop-color="#80d34d"/><stop offset="0.9925" stop-color="#6acc5b"/><stop offset="0.9975" stop-color="#2bb07f"/></linearGradient><linearGradient id="k55" x1="0" y1="0" x2="0" y2="1"><stop offset="0.0025" stop-color="#42bd71"/><stop offset="0.5352" stop-color="#47bf6e"/><stop offset="0.6608" stop-color="#4ec26b"/><stop offset="0.7060" stop-color="#38b877"/><stop offset="0.7412" stop-color="#20a287"/><stop offset="0.7764" stop-color="#20988a"/><stop offset="0.8015" stop-color="#26ab82"/><stop offset="0.8216" stop-color="#51c369"/><stop offset="0.8367" stop-color="#70ce57"/><stop offset="0.8668" stop-color="#82d34c"/><stop offset="0.8920" stop-color="#b3dd2d"/><stop offset="0.9171" stop-color="#c0df26"/><stop offset="0.9925" stop-color="#93d741"/><stop offset="0.9975" stop-color="#87d549"/></linearGradient><linearGradient id="k56" x1="0" y1="0" x2="0" y2="1"><stop offset="0.0025" stop-color="#4dc26b"/><stop offset="0.6809" stop-color="#4fc36a"/><stop offset="0.7261" stop-color="#31b47b"/><stop offset="0.7613" stop-color="#1f9d89"/><stop offset="0.7915" stop-color="#209a8a"/><stop offset="0.8116" stop-color="#27ac81"/><stop offset="0.8367" stop-color="#61ca60"/><stop offset="0.8668" stop-color="#70ce57"/><stop offset="0.8920" stop-color="#aadb32"/><stop offset="0.9171" stop-color="#c2df25"/><stop offset="0.9573" stop-color="#bcde28"/><stop offset="0.9975" stop-color="#acdc31"/></linearGradient><linearGradient id="k57" x1="0" y1="0" x2="0" y2="1"><stop offset="0.0025" stop-color="#55c567"/><stop offset="0.6960" stop-color="#4fc36a"/><stop offset="0.7513" stop-color="#26ab82"/><stop offset="0.7965" stop-color="#209a8a"/><stop offset="0.8166" stop-color="#28ad80"/><stop offset="0.8367" stop-color="#57c666"/><stop offset="0.8618" stop-color="#55c567"/><stop offset="0.8769" stop-color="#78d152"/><stop offset="0.8970" stop-color="#a9db33"/><stop offset="0.9271" stop-color="#c8e022"/><stop offset="0.9673" stop-color="#c7e022"/><stop offset="0.9975" stop-color="#c1df26"/></linearGradient><linearGradient id="k58" x1="0" y1="0" x2="0" y2="1"><stop offset="0.0025" stop-color="#58c665"/><stop offset="0.7010" stop-color="#51c469"/><stop offset="0.7462" stop-color="#35b679"/><stop offset="0.7814" stop-color="#1fa188"/><stop offset="0.8065" stop-color="#1f9e89"/><stop offset="0.8166" stop-color="#27ac81"/><stop offset="0.8367" stop-color="#51c469"/><stop offset="0.8467" stop-color="#50c36a"/><stop offset="0.8618" stop-color="#35b679"/><stop offset="0.8819" stop-color="#7bd151"/><stop offset="0.9020" stop-color="#a8db33"/><stop offset="0.9322" stop-color="#cce01f"/><stop offset="0.9975" stop-color="#cfe11e"/></linearGradient><linearGradient id="k59" x1="0" y1="0" x2="0" y2="1"><stop offset="0.0025" stop-color="#4ec26b"/><stop offset="0.7161" stop-color="#4dc26c"/><stop offset="0.7814" stop-color="#24a784"/><stop offset="0.8065" stop-color="#20a287"/><stop offset="0.8166" stop-color="#29af7f"/><stop offset="0.8317" stop-color="#49c06d"/><stop offset="0.8417" stop-color="#46bf6f"/><stop offset="0.8518" stop-color="#26ab82"/><stop offset="0.8568" stop-color="#20998a"/><stop offset="0.8618" stop-color="#20958b"/><stop offset="0.8668" stop-color="#30b37c"/><stop offset="0.8719" stop-color="#51c469"/><stop offset="0.8970" stop-color="#95d740"/><stop offset="0.9322" stop-color="#cce01f"/><stop offset="0.9874" stop-color="#d8e219"/><stop offset="0.9975" stop-color="#d7e21a"/></linearGradient><linearGradient id="k60" x1="0" y1="0" x2="0" y2="1"><stop offset="0.0025" stop-color="#3dbb74"/><stop offset="0.5352" stop-color="#42bd71"/><stop offset="0.6709" stop-color="#4ac16d"/><stop offset="0.7462" stop-color="#3fbc73"/><stop offset="0.7965" stop-color="#23a685"/><stop offset="0.8116" stop-color="#27ac81"/><stop offset="0.8266" stop-color="#3ebc73"/><stop offset="0.8367" stop-color="#37b778"/><stop offset="0.8467" stop-color="#1fa088"/><stop offset="0.8568" stop-color="#228f8c"/><stop offset="0.8618" stop-color="#209a8a"/><stop offset="0.8668" stop-color="#36b778"/><stop offset="0.8719" stop-color="#54c568"/><stop offset="0.9271" stop-color="#c4df24"/><stop offset="0.9623" stop-color="#d7e21a"/><stop offset="0.9975" stop-color="#d5e21b"/></linearGradient><linearGradient id="k61" x1="0" y1="0" x2="0" y2="1"><stop offset="0.0025" stop-color="#4ec26b"/><stop offset="0.6809" stop-color="#4dc26b"/><stop offset="0.7513" stop-color="#49c06e"/><stop offset="0.8015" stop-color="#28ae80"/><stop offset="0.8216" stop-color="#32b47a"/><stop offset="0.8417" stop-color="#21a287"/><stop offset="0.8518" stop-color="#28ae80"/><stop offset="0.8719" stop-color="#65cb5e"/><stop offset="0.9121" stop-color="#a1da38"/><stop offset="0.9322" stop-color="#c6df23"/><stop offset="0.9824" stop-color="#d0e11d"/><stop offset="0.9975" stop-color="#c9e021"/></linearGradient><linearGradient id="k62" x1="0" y1="0" x2="0" y2="1"><stop offset="0.0025" stop-color="#63ca5f"/><stop offset="0.6055" stop-color="#5dc963"/><stop offset="0.7111" stop-color="#4bc16c"/><stop offset="0.7412" stop-color="#5bc864"/><stop offset="0.7764" stop-color="#46bf6f"/><stop offset="0.8166" stop-color="#24a884"/><stop offset="0.8266" stop-color="#1fa088"/><stop offset="0.8367" stop-color="#30b37c"/><stop offset="0.8518" stop-color="#68cc5c"/><stop offset="0.8668" stop-color="#79d151"/><stop offset="0.9070" stop-color="#95d740"/><stop offset="0.9372" stop-color="#c2df25"/><stop offset="0.9824" stop-color="#bede27"/><stop offset="0.9975" stop-color="#b2dd2d"/></linearGradient><linearGradient id="k63" x1="0" y1="0" x2="0" y2="1"><stop offset="0.0025" stop-color="#6fce58"/><stop offset="0.5704" stop-color="#69cc5b"/><stop offset="0.6658" stop-color="#52c468"/><stop offset="0.7060" stop-color="#3fbc73"/><stop offset="0.7362" stop-color="#65cb5e"/><stop offset="0.7613" stop-color="#5fc961"/><stop offset="0.7965" stop-color="#34b579"/><stop offset="0.8065" stop-color="#20a287"/><stop offset="0.8166" stop-color="#21948b"/><stop offset="0.8216" stop-color="#1fa188"/><stop offset="0.8266" stop-color="#32b47a"/><stop offset="0.8367" stop-color="#6ccd5a"/><stop offset="0.8467" stop-color="#86d44a"/><stop offset="0.9121" stop-color="#99d83d"/><stop offset="0.9422" stop-color="#b6dd2b"/><stop offset="0.9774" stop-color="#abdc32"/><stop offset="0.9975" stop-color="#96d73f"/></linearGradient><linearGradient id="k64" x1="0" y1="0" x2="0" y2="1"><stop offset="0.0025" stop-color="#67cc5c"/><stop offset="0.5553" stop-color="#62ca5f"/><stop offset="0.6508" stop-color="#49c06e"/><stop offset="0.7060" stop-color="#2eb27c"/><stop offset="0.7362" stop-color="#5dc962"/><stop offset="0.7563" stop-color="#5cc863"/><stop offset="0.7814" stop-color="#40bd72"/><stop offset="0.7965" stop-color="#1f9c89"/><stop offset="0.8015" stop-color="#238c8d"/><stop offset="0.8065" stop-color="#25868d"/><stop offset="0.8116" stop-color="#21938b"/><stop offset="0.8166" stop-color="#26ab82"/><stop offset="0.8266" stop-color="#6bcd5a"/><stop offset="0.8367" stop-color="#8bd546"/><stop offset="0.8618" stop-color="#96d83f"/><stop offset="0.9171" stop-color="#95d740"/><stop offset="0.9472" stop-color="#a4da36"/><stop offset="0.9774" stop-color="#90d643"/><stop offset="0.9975" stop-color="#77d053"/></linearGradient><linearGradient id="k65" x1="0" y1="0" x2="0" y2="1"><stop offset="0.0025" stop-color="#4ec26b"/><stop offset="0.5503" stop-color="#49c06e"/><stop offset="0.7060" stop-color="#23a684"/><stop offset="0.7211" stop-color="#32b47b"/><stop offset="0.7412" stop-color="#48c06e"/><stop offset="0.7714" stop-color="#39b877"/><stop offset="0.7814" stop-color="#25a983"/><stop offset="0.7864" stop-color="#20978a"/><stop offset="0.7915" stop-color="#26818e"/><stop offset="0.7965" stop-color="#2a778e"/><stop offset="0.8015" stop-color="#26838e"/><stop offset="0.8065" stop-color="#1f9e89"/><stop offset="0.8116" stop-color="#37b778"/><stop offset="0.8216" stop-color="#76d054"/><stop offset="0.8317" stop-color="#8ed644"/><stop offset="0.8618" stop-color="#99d83d"/><stop offset="0.9221" stop-color="#8bd546"/><stop offset="0.9523" stop-color="#8dd645"/><stop offset="0.9824" stop-color="#6ece59"/><stop offset="0.9975" stop-color="#5bc864"/></linearGradient><linearGradient id="k66" x1="0" y1="0" x2="0" y2="1"><stop offset="0.0025" stop-color="#2eb27d"/><stop offset="0.5553" stop-color="#29ae80"/><stop offset="0.7111" stop-color="#1f9f88"/><stop offset="0.7462" stop-color="#2ab07f"/><stop offset="0.7714" stop-color="#22a486"/><stop offset="0.7814" stop-color="#287d8e"/><stop offset="0.7864" stop-color="#30698e"/><stop offset="0.7915" stop-color="#2c718e"/><stop offset="0.7965" stop-color="#228d8d"/><stop offset="0.8015" stop-color="#25aa82"/><stop offset="0.8116" stop-color="#61ca60"/><stop offset="0.8216" stop-color="#83d44c"/><stop offset="0.8417" stop-color="#98d83e"/><stop offset="0.8869" stop-color="#91d742"/><stop offset="0.9322" stop-color="#7ed24f"/><stop offset="0.9623" stop-color="#70ce57"/><stop offset="0.9975" stop-color="#44be70"/></linearGradient><linearGradient id="k67" x1="0" y1="0" x2="0" y2="1"><stop offset="0.0025" stop-color="#20a287"/><stop offset="0.5955" stop-color="#209c89"/><stop offset="0.7161" stop-color="#209a8a"/><stop offset="0.7563" stop-color="#1fa088"/><stop offset="0.7663" stop-color="#21908c"/><stop offset="0.7764" stop-color="#32648d"/><stop offset="0.7814" stop-color="#34608d"/><stop offset="0.7915" stop-color="#20998a"/><stop offset="0.7965" stop-color="#2cb17e"/><stop offset="0.8065" stop-color="#5ec962"/><stop offset="0.8216" stop-color="#89d547"/><stop offset="0.8467" stop-color="#9ad83c"/><stop offset="0.8819" stop-color="#93d741"/><stop offset="0.9623" stop-color="#5bc864"/><stop offset="0.9975" stop-color="#34b579"/></linearGradient><linearGradient id="k68" x1="0" y1="0" x2="0" y2="1"><stop offset="0.0025" stop-color="#27ac81"/><stop offset="0.5452" stop-color="#23a784"/><stop offset="0.6658" stop-color="#20968b"/><stop offset="0.7462" stop-color="#23a784"/><stop offset="0.7563" stop-color="#20998a"/><stop offset="0.7663" stop-color="#30688d"/><stop offset="0.7714" stop-color="#375a8c"/><stop offset="0.7764" stop-color="#306a8e"/><stop offset="0.7814" stop-color="#238c8d"/><stop offset="0.7864" stop-color="#24a883"/><stop offset="0.7965" stop-color="#53c468"/><stop offset="0.8116" stop-color="#84d44b"/><stop offset="0.8317" stop-color="#9bd83c"/><stop offset="0.8719" stop-color="#9ad83c"/><stop offset="0.9573" stop-color="#57c666"/><stop offset="0.9975" stop-color="#2aaf7f"/></linearGradient><linearGradient id="k69" x1="0" y1="0" x2="0" y2="1"><stop offset="0.0025" stop-color="#54c567"/><stop offset="0.5251" stop-color="#51c369"/><stop offset="0.5603" stop-color="#26ac81"/><stop offset="0.6457" stop-color="#21928c"/><stop offset="0.6960" stop-color="#26ab82"/><stop offset="0.7161" stop-color="#31b37b"/><stop offset="0.7362" stop-color="#3cba75"/><stop offset="0.7462" stop-color="#2ab07f"/><stop offset="0.7513" stop-color="#209b89"/><stop offset="0.7613" stop-color="#355e8d"/><stop offset="0.7663" stop-color="#34618d"/><stop offset="0.7714" stop-color="#26838e"/><stop offset="0.7764" stop-color="#22a485"/><stop offset="0.7814" stop-color="#3cba75"/><stop offset="0.7915" stop-color="#69cc5b"/><stop offset="0.8065" stop-color="#8ed644"/><stop offset="0.8317" stop-color="#9fd939"/><stop offset="0.8719" stop-color="#9ad83d"/><stop offset="0.9523" stop-color="#59c765"/><stop offset="0.9925" stop-color="#29ae80"/><stop offset="0.9975" stop-color="#27ac81"/></linearGradient><linearGradient id="k70" x1="0" y1="0" x2="0" y2="1"><stop offset="0.0025" stop-color="#6ccd59"/><stop offset="0.4950" stop-color="#63ca5f"/><stop offset="0.5302" stop-color="#55c567"/><stop offset="0.5553" stop-color="#26ab82"/><stop offset="0.6106" stop-color="#21908c"/><stop offset="0.6357" stop-color="#238b8d"/><stop offset="0.6658" stop-color="#25aa82"/><stop offset="0.7312" stop-color="#48c06e"/><stop offset="0.7362" stop-color="#40bc72"/><stop offset="0.7412" stop-color="#2eb27d"/><stop offset="0.7462" stop-color="#20978a"/><stop offset="0.7513" stop-color="#2d708e"/><stop offset="0.7563" stop-color="#355e8d"/><stop offset="0.7613" stop-color="#2a778e"/><stop offset="0.7663" stop-color="#209b89"/><stop offset="0.7714" stop-color="#34b579"/><stop offset="0.7814" stop-color="#65cb5e"/><stop offset="0.8015" stop-color="#93d741"/><stop offset="0.8317" stop-color="#a1da38"/><stop offset="0.8668" stop-color="#9ad83c"/><stop offset="0.9422" stop-color="#61ca60"/><stop offset="0.9874" stop-color="#28ae80"/><stop offset="0.9975" stop-color="#24a883"/></linearGradient><linearGradient id="k71" x1="0" y1="0" x2="0" y2="1"><stop offset="0.0025" stop-color="#77d053"/><stop offset="0.2789" stop-color="#70ce57"/><stop offset="0.4548" stop-color="#40bc72"/><stop offset="0.5201" stop-color="#31b37b"/><stop offset="0.5553" stop-color="#209b89"/><stop offset="0.6156" stop-color="#26828e"/><stop offset="0.6457" stop-color="#23a685"/><stop offset="0.6910" stop-color="#46bf6f"/><stop offset="0.7261" stop-color="#4bc16c"/><stop offset="0.7312" stop-color="#41bd72"/><stop offset="0.7362" stop-color="#29af7f"/><stop offset="0.7412" stop-color="#21908c"/><stop offset="0.7462" stop-color="#2f6b8e"/><stop offset="0.7513" stop-color="#31678d"/><stop offset="0.7563" stop-color="#238c8d"/><stop offset="0.7613" stop-color="#28ae80"/><stop offset="0.7663" stop-color="#4bc16d"/><stop offset="0.7764" stop-color="#70ce57"/><stop offset="0.8015" stop-color="#99d83d"/><stop offset="0.8518" stop-color="#a1da38"/><stop offset="0.9372" stop-color="#61ca60"/><stop offset="0.9824" stop-color="#28ae80"/><stop offset="0.9975" stop-color="#22a585"/></linearGradient><linearGradient id="k72" x1="0" y1="0" x2="0" y2="1"><stop offset="0.0025" stop-color="#75d054"/><stop offset="0.2337" stop-color="#6fce58"/><stop offset="0.3291" stop-color="#2fb27c"/><stop offset="0.3794" stop-color="#209a8a"/><stop offset="0.4598" stop-color="#25858e"/><stop offset="0.5402" stop-color="#2a788e"/><stop offset="0.5704" stop-color="#25848e"/><stop offset="0.6005" stop-color="#25868d"/><stop offset="0.6307" stop-color="#24a784"/><stop offset="0.6709" stop-color="#47c06e"/><stop offset="0.7060" stop-color="#53c468"/><stop offset="0.7211" stop-color="#48c06e"/><stop offset="0.7261" stop-color="#3cba75"/><stop offset="0.7312" stop-color="#25a983"/><stop offset="0.7362" stop-color="#24888d"/><stop offset="0.7412" stop-color="#30698d"/><stop offset="0.7462" stop-color="#2b748e"/><stop offset="0.7513" stop-color="#209a8a"/><stop offset="0.7563" stop-color="#39b876"/><stop offset="0.7613" stop-color="#58c765"/><stop offset="0.7764" stop-color="#7ed24f"/><stop offset="0.8015" stop-color="#9bd93c"/><stop offset="0.8518" stop-color="#9ed93a"/><stop offset="0.9322" stop-color="#61ca60"/><stop offset="0.9774" stop-color="#28ae80"/><stop offset="0.9975" stop-color="#20a287"/></linearGradient><linearGradient id="k73" x1="0" y1="0" x2="0" y2="1"><stop offset="0.0025" stop-color="#67cc5d"/><stop offset="0.2186" stop-color="#63ca5f"/><stop offset="0.2789" stop-color="#31b37b"/><stop offset="0.3141" stop-color="#209b89"/><stop offset="0.4045" stop-color="#34618d"/><stop offset="0.5251" stop-color="#32658d"/><stop offset="0.5653" stop-color="#25868d"/><stop offset="0.5905" stop-color="#21948b"/><stop offset="0.6156" stop-color="#27ac81"/><stop offset="0.6809" stop-color="#51c369"/><stop offset="0.7111" stop-color="#48c06e"/><stop offset="0.7211" stop-color="#34b579"/><stop offset="0.7261" stop-color="#20a187"/><stop offset="0.7312" stop-color="#277f8e"/><stop offset="0.7362" stop-color="#306a8e"/><stop offset="0.7412" stop-color="#27808e"/><stop offset="0.7462" stop-color="#22a585"/><stop offset="0.7513" stop-color="#43be71"/><stop offset="0.7563" stop-color="#5cc863"/><stop offset="0.7764" stop-color="#84d44b"/><stop offset="0.8065" stop-color="#9ed93a"/><stop offset="0.8467" stop-color="#9ed93a"/><stop offset="0.9322" stop-color="#5ac764"/><stop offset="0.9724" stop-color="#27ad81"/><stop offset="0.9975" stop-color="#1f9e89"/></linearGradient><linearGradient id="k74" x1="0" y1="0" x2="0" y2="1"><stop offset="0.0025" stop-color="#43bd71"/><stop offset="0.2236" stop-color="#3ebb74"/><stop offset="0.2990" stop-color="#1f9f88"/><stop offset="0.3894" stop-color="#26828e"/><stop offset="0.5201" stop-color="#21908c"/><stop offset="0.5905" stop-color="#22a585"/><stop offset="0.6759" stop-color="#3ab976"/><stop offset="0.7111" stop-color="#2eb27c"/><stop offset="0.7161" stop-color="#25a983"/><stop offset="0.7211" stop-color="#21938b"/><stop offset="0.7261" stop-color="#2b768e"/><stop offset="0.7312" stop-color="#2e6e8e"/><stop offset="0.7362" stop-color="#238a8d"/><stop offset="0.7412" stop-color="#26ab82"/><stop offset="0.7462" stop-color="#43be71"/><stop offset="0.7563" stop-color="#61ca60"/><stop offset="0.7915" stop-color="#94d741"/><stop offset="0.8317" stop-color="#a2da38"/><stop offset="0.9221" stop-color="#60ca61"/><stop offset="0.9623" stop-color="#29af7f"/><stop offset="0.9975" stop-color="#20998a"/></linearGradient><linearGradient id="k75" x1="0" y1="0" x2="0" y2="1"><stop offset="0.0025" stop-color="#36b678"/><stop offset="0.2487" stop-color="#30b37c"/><stop offset="0.3995" stop-color="#24a884"/><stop offset="0.5503" stop-color="#25a983"/><stop offset="0.6859" stop-color="#2fb27c"/><stop offset="0.7060" stop-color="#25aa82"/><stop offset="0.7111" stop-color="#1f9d89"/><stop offset="0.7211" stop-color="#2f6c8e"/><stop offset="0.7261" stop-color="#2b748e"/><stop offset="0.7312" stop-color="#20958b"/><stop offset="0.7362" stop-color="#2eb17d"/><stop offset="0.7412" stop-color="#48c06e"/><stop offset="0.7613" stop-color="#72cf56"/><stop offset="0.8015" stop-color="#9cd93b"/><stop offset="0.8367" stop-color="#9ed93a"/><stop offset="0.9221" stop-color="#59c765"/><stop offset="0.9623" stop-color="#26ab82"/><stop offset="0.9975" stop-color="#20968b"/></linearGradient><linearGradient id="k76" x1="0" y1="0" x2="0" y2="1"><stop offset="0.0025" stop-color="#50c36a"/><stop offset="0.5352" stop-color="#4ac16d"/><stop offset="0.5653" stop-color="#39b976"/><stop offset="0.6658" stop-color="#49c06d"/><stop offset="0.6960" stop-color="#34b679"/><stop offset="0.7010" stop-color="#27ad81"/><stop offset="0.7060" stop-color="#20988a"/><stop offset="0.7111" stop-color="#2a788e"/><stop offset="0.7161" stop-color="#32648d"/><stop offset="0.7211" stop-color="#297b8e"/><stop offset="0.7261" stop-color="#20a287"/><stop offset="0.7312" stop-color="#3ebc73"/><stop offset="0.7362" stop-color="#5ac764"/><stop offset="0.7513" stop-color="#79d152"/><stop offset="0.8065" stop-color="#9fd939"/><stop offset="0.8367" stop-color="#9ad83c"/><stop offset="0.9171" stop-color="#5ac764"/><stop offset="0.9573" stop-color="#27ac81"/><stop offset="0.9975" stop-color="#21948b"/></linearGradient><linearGradient id="k77" x1="0" y1="0" x2="0" y2="1"><stop offset="0.0025" stop-color="#66cb5d"/><stop offset="0.5352" stop-color="#61ca60"/><stop offset="0.5653" stop-color="#52c468"/><stop offset="0.6558" stop-color="#5dc963"/><stop offset="0.6809" stop-color="#4ec26b"/><stop offset="0.6910" stop-color="#3ab976"/><stop offset="0.6960" stop-color="#26ab82"/><stop offset="0.7010" stop-color="#228d8c"/><stop offset="0.7060" stop-color="#30688d"/><stop offset="0.7111" stop-color="#34608d"/><stop offset="0.7161" stop-color="#25848e"/><stop offset="0.7211" stop-color="#26ab82"/><stop offset="0.7261" stop-color="#4cc16c"/><stop offset="0.7312" stop-color="#65cb5d"/><stop offset="0.7462" stop-color="#83d44c"/><stop offset="0.8166" stop-color="#a1da38"/><stop offset="0.9121" stop-color="#5ac764"/><stop offset="0.9523" stop-color="#28ad80"/><stop offset="0.9925" stop-color="#21958b"/><stop offset="0.9975" stop-color="#21928c"/></linearGradient><linearGradient id="k78" x1="0" y1="0" x2="0" y2="1"><stop offset="0.0025" stop-color="#72cf56"/><stop offset="0.5352" stop-color="#6ece58"/><stop offset="0.5704" stop-color="#62ca5f"/><stop offset="0.6508" stop-color="#65cb5e"/><stop offset="0.6809" stop-color="#49c06d"/><stop offset="0.6859" stop-color="#38b877"/><stop offset="0.6910" stop-color="#21a386"/><stop offset="0.7010" stop-color="#375b8c"/><stop offset="0.7060" stop-color="#33628d"/><stop offset="0.7111" stop-color="#228e8c"/><stop offset="0.7161" stop-color="#2fb27c"/><stop offset="0.7211" stop-color="#54c567"/><stop offset="0.7312" stop-color="#79d152"/><stop offset="0.7513" stop-color="#8fd644"/><stop offset="0.8166" stop-color="#a0da38"/><stop offset="0.9070" stop-color="#5ac764"/><stop offset="0.9523" stop-color="#26aa82"/><stop offset="0.9975" stop-color="#21908c"/></linearGradient><linearGradient id="k79" x1="0" y1="0" x2="0" y2="1"><stop offset="0.0025" stop-color="#77d053"/><stop offset="0.5302" stop-color="#74cf55"/><stop offset="0.5704" stop-color="#65cb5e"/><stop offset="0.6508" stop-color="#60ca61"/><stop offset="0.6709" stop-color="#49c06d"/><stop offset="0.6809" stop-color="#2bb07e"/><stop offset="0.6859" stop-color="#20968b"/><stop offset="0.6910" stop-color="#2f6c8e"/><stop offset="0.6960" stop-color="#3a548b"/><stop offset="0.7010" stop-color="#2f6b8e"/><stop offset="0.7060" stop-color="#20988a"/><stop offset="0.7111" stop-color="#37b777"/><stop offset="0.7161" stop-color="#57c666"/><stop offset="0.7261" stop-color="#79d152"/><stop offset="0.7462" stop-color="#90d643"/><stop offset="0.8116" stop-color="#a0d939"/><stop offset="0.9020" stop-color="#5ac764"/><stop offset="0.9472" stop-color="#26ab82"/><stop offset="0.9925" stop-color="#21908c"/><stop offset="0.9975" stop-color="#228d8d"/></linearGradient><linearGradient id="k80" x1="0" y1="0" x2="0" y2="1"><stop offset="0.0025" stop-color="#74cf55"/><stop offset="0.5302" stop-color="#6fce58"/><stop offset="0.5603" stop-color="#5cc863"/><stop offset="0.6508" stop-color="#51c469"/><stop offset="0.6658" stop-color="#34b579"/><stop offset="0.6709" stop-color="#25a983"/><stop offset="0.6759" stop-color="#20958b"/><stop offset="0.6859" stop-color="#375b8c"/><stop offset="0.6910" stop-color="#3a558b"/><stop offset="0.7010" stop-color="#20a287"/><stop offset="0.7060" stop-color="#3dbb74"/><stop offset="0.7161" stop-color="#67cc5d"/><stop offset="0.7312" stop-color="#87d549"/><stop offset="0.8015" stop-color="#a0d939"/><stop offset="0.8970" stop-color="#5ac764"/><stop offset="0.9422" stop-color="#26ab82"/><stop offset="0.9874" stop-color="#228f8c"/><stop offset="0.9975" stop-color="#238a8d"/></linearGradient><linearGradient id="k81" x1="0" y1="0" x2="0" y2="1"><stop offset="0.0025" stop-color="#6ece58"/><stop offset="0.5251" stop-color="#69cc5c"/><stop offset="0.5553" stop-color="#4bc16d"/><stop offset="0.6508" stop-color="#31b47b"/><stop offset="0.6608" stop-color="#1f9d89"/><stop offset="0.6759" stop-color="#3a548b"/><stop offset="0.6809" stop-color="#3c508b"/><stop offset="0.6859" stop-color="#34608d"/><stop offset="0.6910" stop-color="#24888d"/><stop offset="0.6960" stop-color="#25aa82"/><stop offset="0.7060" stop-color="#53c468"/><stop offset="0.7261" stop-color="#82d34c"/><stop offset="0.7513" stop-color="#92d742"/><stop offset="0.8065" stop-color="#9dd93b"/><stop offset="0.8920" stop-color="#5ac764"/><stop offset="0.9372" stop-color="#26ab82"/><stop offset="0.9824" stop-color="#228f8c"/><stop offset="0.9975" stop-color="#24878d"/></linearGradient><linearGradient id="k82" x1="0" y1="0" x2="0" y2="1"><stop offset="0.0025" stop-color="#5cc863"/><stop offset="0.4749" stop-color="#57c666"/><stop offset="0.5251" stop-color="#45bf6f"/><stop offset="0.5553" stop-color="#25aa83"/><stop offset="0.6357" stop-color="#228d8d"/><stop offset="0.6508" stop-color="#27808e"/><stop offset="0.6608" stop-color="#38598c"/><stop offset="0.6658" stop-color="#3c4f8a"/><stop offset="0.6709" stop-color="#39558b"/><stop offset="0.6859" stop-color="#1f9d89"/><stop offset="0.6960" stop-color="#3cba75"/><stop offset="0.7261" stop-color="#7fd34e"/><stop offset="0.7513" stop-color="#91d643"/><stop offset="0.8015" stop-color="#9cd93b"/><stop offset="0.8869" stop-color="#5ac764"/><stop offset="0.9322" stop-color="#26ab82"/><stop offset="0.9724" stop-color="#21918c"/><stop offset="0.9975" stop-color="#26838e"/></linearGradient><linearGradient id="k83" x1="0" y1="0" x2="0" y2="1"><stop offset="0.0025" stop-color="#41bd72"/><stop offset="0.4095" stop-color="#3cba75"/><stop offset="0.5000" stop-color="#20a187"/><stop offset="0.5452" stop-color="#238b8d"/><stop offset="0.5553" stop-color="#2f6c8e"/><stop offset="0.6357" stop-color="#3e4a89"/><stop offset="0.6558" stop-color="#3e4b89"/><stop offset="0.6608" stop-color="#365c8c"/><stop offset="0.6709" stop-color="#228e8c"/><stop offset="0.6809" stop-color="#25a983"/><stop offset="0.7060" stop-color="#48c06e"/><stop offset="0.7312" stop-color="#80d34d"/><stop offset="0.7915" stop-color="#9dd93b"/><stop offset="0.8819" stop-color="#5ac764"/><stop offset="0.9271" stop-color="#26ab82"/><stop offset="0.9623" stop-color="#21938b"/><stop offset="0.9975" stop-color="#277f8e"/></linearGradient><linearGradient id="k84" x1="0" y1="0" x2="0" y2="1"><stop offset="0.0025" stop-color="#26ab82"/><stop offset="0.3945" stop-color="#23a685"/><stop offset="0.4749" stop-color="#277f8e"/><stop offset="0.5251" stop-color="#34608d"/><stop offset="0.5452" stop-color="#2f6b8e"/><stop offset="0.5503" stop-color="#3a548b"/><stop offset="0.5553" stop-color="#404788"/><stop offset="0.6407" stop-color="#38588c"/><stop offset="0.6508" stop-color="#345f8d"/><stop offset="0.6608" stop-color="#228d8d"/><stop offset="0.6709" stop-color="#20a287"/><stop offset="0.7010" stop-color="#2bb07e"/><stop offset="0.7161" stop-color="#4dc26b"/><stop offset="0.7312" stop-color="#77d053"/><stop offset="0.7563" stop-color="#8bd547"/><stop offset="0.7915" stop-color="#99d83d"/><stop offset="0.8769" stop-color="#5ac764"/><stop offset="0.9221" stop-color="#26ab82"/><stop offset="0.9573" stop-color="#21928c"/><stop offset="0.9975" stop-color="#297a8e"/></linearGradient><linearGradient id="k85" x1="0" y1="0" x2="0" y2="1"><stop offset="0.0025" stop-color="#1f9e88"/><stop offset="0.3844" stop-color="#20998a"/><stop offset="0.5050" stop-color="#2d718e"/><stop offset="0.5352" stop-color="#287b8e"/><stop offset="0.5452" stop-color="#26828e"/><stop offset="0.5553" stop-color="#2c728e"/><stop offset="0.6558" stop-color="#20958b"/><stop offset="0.7010" stop-color="#23a784"/><stop offset="0.7111" stop-color="#33b57a"/><stop offset="0.7312" stop-color="#72cf56"/><stop offset="0.7513" stop-color="#86d44a"/><stop offset="0.7864" stop-color="#97d83e"/><stop offset="0.8719" stop-color="#59c765"/><stop offset="0.9171" stop-color="#26ab82"/><stop offset="0.9523" stop-color="#21918c"/><stop offset="0.9975" stop-color="#2a768e"/></linearGradient><linearGradient id="k86" x1="0" y1="0" x2="0" y2="1"><stop offset="0.0025" stop-color="#26ab82"/><stop offset="0.4045" stop-color="#22a585"/><stop offset="0.5151" stop-color="#1fa088"/><stop offset="0.6960" stop-color="#29af7f"/><stop offset="0.7111" stop-color="#44be70"/><stop offset="0.7312" stop-color="#7bd150"/><stop offset="0.7814" stop-color="#97d83e"/><stop offset="0.8668" stop-color="#59c764"/><stop offset="0.9121" stop-color="#26ab82"/><stop offset="0.9523" stop-color="#228f8c"/><stop offset="0.9975" stop-color="#2b768e"/></linearGradient><linearGradient id="k87" x1="0" y1="0" x2="0" y2="1"><stop offset="0.0025" stop-color="#41bd72"/><stop offset="0.5352" stop-color="#3bba75"/><stop offset="0.5955" stop-color="#37b778"/><stop offset="0.6859" stop-color="#41bd72"/><stop offset="0.7060" stop-color="#55c567"/><stop offset="0.7312" stop-color="#85d44a"/><stop offset="0.7814" stop-color="#96d83f"/><stop offset="0.8618" stop-color="#5ac764"/><stop offset="0.9070" stop-color="#26ab81"/><stop offset="0.9472" stop-color="#21918c"/><stop offset="0.9975" stop-color="#2a778e"/></linearGradient><linearGradient id="k88" x1="0" y1="0" x2="0" y2="1"><stop offset="0.0025" stop-color="#55c567"/><stop offset="0.5352" stop-color="#50c36a"/><stop offset="0.5804" stop-color="#4ac16d"/><stop offset="0.6910" stop-color="#57c666"/><stop offset="0.7111" stop-color="#6fce58"/><stop offset="0.7362" stop-color="#8dd645"/><stop offset="0.7764" stop-color="#96d83f"/><stop offset="0.8568" stop-color="#5ac764"/><stop offset="0.9020" stop-color="#27ac81"/><stop offset="0.9422" stop-color="#21938b"/><stop offset="0.9975" stop-color="#2a778e"/></linearGradient><linearGradient id="k89" x1="0" y1="0" x2="0" y2="1"><stop offset="0.0025" stop-color="#5dc863"/><stop offset="0.5452" stop-color="#57c666"/><stop offset="0.6910" stop-color="#60c961"/><stop offset="0.7312" stop-color="#8cd645"/><stop offset="0.7764" stop-color="#94d741"/><stop offset="0.8518" stop-color="#5bc864"/><stop offset="0.8970" stop-color="#27ad81"/><stop offset="0.9422" stop-color="#21918c"/><stop offset="0.9975" stop-color="#2a778e"/></linearGradient><linearGradient id="k90" x1="0" y1="0" x2="0" y2="1"><stop offset="0.0025" stop-color="#5ec962"/><stop offset="0.6859" stop-color="#60c961"/><stop offset="0.7161" stop-color="#7fd34e"/><stop offset="0.7513" stop-color="#92d742"/><stop offset="0.7814" stop-color="#8ed645"/><stop offset="0.8467" stop-color="#5cc863"/><stop offset="0.8920" stop-color="#28ae80"/><stop offset="0.9372" stop-color="#21948b"/><stop offset="0.9975" stop-color="#2a788e"/></linearGradient><linearGradient id="k91" x1="0" y1="0" x2="0" y2="1"><stop offset="0.0025" stop-color="#5ec962"/><stop offset="0.6910" stop-color="#62ca5f"/><stop offset="0.7312" stop-color="#8bd547"/><stop offset="0.7714" stop-color="#8fd643"/><stop offset="0.8417" stop-color="#5ec962"/><stop offset="0.8920" stop-color="#28ae80"/><stop offset="0.9422" stop-color="#21928c"/><stop offset="0.9975" stop-color="#297b8e"/></linearGradient><linearGradient id="k92" x1="0" y1="0" x2="0" y2="1"><stop offset="0.0025" stop-color="#5fc961"/><stop offset="0.6910" stop-color="#64cb5f"/><stop offset="0.7312" stop-color="#88d549"/><stop offset="0.7714" stop-color="#8bd546"/><stop offset="0.8367" stop-color="#61ca60"/><stop offset="0.8920" stop-color="#29af7f"/><stop offset="0.9422" stop-color="#20958b"/><stop offset="0.9975" stop-color="#27808e"/></linearGradient><linearGradient id="k93" x1="0" y1="0" x2="0" y2="1"><stop offset="0.0025" stop-color="#66cb5d"/><stop offset="0.6910" stop-color="#6ccd5a"/><stop offset="0.7362" stop-color="#86d44a"/><stop offset="0.7814" stop-color="#82d34c"/><stop offset="0.8367" stop-color="#61ca60"/><stop offset="0.9070" stop-color="#28ae80"/><stop offset="0.9623" stop-color="#21948b"/><stop offset="0.9975" stop-color="#287d8e"/></linearGradient><linearGradient id="k94" x1="0" y1="0" x2="0" y2="1"><stop offset="0.0025" stop-color="#6bcd5a"/><stop offset="0.6156" stop-color="#78d052"/><stop offset="0.7714" stop-color="#7fd24e"/><stop offset="0.8518" stop-color="#5cc863"/><stop offset="0.9472" stop-color="#23a784"/><stop offset="0.9724" stop-color="#20998a"/><stop offset="0.9975" stop-color="#365c8c"/></linearGradient><linearGradient id="k95" x1="0" y1="0" x2="0" y2="1"><stop offset="0.0025" stop-color="#64cb5f"/><stop offset="0.2940" stop-color="#69cc5b"/><stop offset="0.4698" stop-color="#7fd24e"/><stop offset="0.7513" stop-color="#7cd250"/><stop offset="0.8668" stop-color="#58c665"/><stop offset="0.9472" stop-color="#25aa82"/><stop offset="0.9724" stop-color="#21948b"/><stop offset="0.9874" stop-color="#3c4f8a"/><stop offset="0.9975" stop-color="#472d7c"/></linearGradient><linearGradient id="k96" x1="0" y1="0" x2="0" y2="1"><stop offset="0.0025" stop-color="#5ec962"/><stop offset="0.2839" stop-color="#64cb5e"/><stop offset="0.4497" stop-color="#84d44b"/><stop offset="0.6859" stop-color="#7ed24f"/><stop offset="0.8116" stop-color="#68cc5c"/><stop offset="0.8719" stop-color="#50c369"/><stop offset="0.9472" stop-color="#23a784"/><stop offset="0.9673" stop-color="#20978a"/><stop offset="0.9724" stop-color="#24898d"/><stop offset="0.9824" stop-color="#3b538b"/><stop offset="0.9925" stop-color="#481e6f"/><stop offset="0.9975" stop-color="#471365"/></linearGradient><linearGradient id="k97" x1="0" y1="0" x2="0" y2="1"><stop offset="0.0025" stop-color="#5dc863"/><stop offset="0.2789" stop-color="#62ca60"/><stop offset="0.4497" stop-color="#85d44b"/><stop offset="0.6709" stop-color="#7dd24f"/><stop offset="0.8015" stop-color="#66cb5d"/><stop offset="0.8668" stop-color="#4fc36a"/><stop offset="0.9472" stop-color="#22a585"/><stop offset="0.9673" stop-color="#21918c"/><stop offset="0.9724" stop-color="#277f8e"/><stop offset="0.9824" stop-color="#404788"/><stop offset="0.9874" stop-color="#472877"/><stop offset="0.9925" stop-color="#471466"/><stop offset="0.9975" stop-color="#460e60"/></linearGradient><linearGradient id="k98" x1="0" y1="0" x2="0" y2="1"><stop offset="0.0025" stop-color="#5cc863"/><stop offset="0.2839" stop-color="#63ca5f"/><stop offset="0.4497" stop-color="#85d44b"/><stop offset="0.6608" stop-color="#7cd250"/><stop offset="0.7965" stop-color="#63ca5f"/><stop offset="0.8668" stop-color="#4ac16d"/><stop offset="0.9472" stop-color="#21a386"/><stop offset="0.9623" stop-color="#20978a"/><stop offset="0.9673" stop-color="#238b8d"/><stop offset="0.9774" stop-color="#39568c"/><stop offset="0.9874" stop-color="#481e6f"/><stop offset="0.9925" stop-color="#461062"/><stop offset="0.9975" stop-color="#460d60"/></linearGradient><linearGradient id="k99" x1="0" y1="0" x2="0" y2="1"><stop offset="0.0025" stop-color="#5cc863"/><stop offset="0.2839" stop-color="#62ca5f"/><stop offset="0.4497" stop-color="#84d44b"/><stop offset="0.6508" stop-color="#7bd250"/><stop offset="0.7965" stop-color="#5ec962"/><stop offset="0.8668" stop-color="#45be70"/><stop offset="0.9472" stop-color="#1fa188"/><stop offset="0.9623" stop-color="#21938c"/><stop offset="0.9673" stop-color="#26828e"/><stop offset="0.9774" stop-color="#3e4b89"/><stop offset="0.9874" stop-color="#471769"/><stop offset="0.9975" stop-color="#460d60"/></linearGradient><linearGradient id="k100" x1="0" y1="0" x2="0" y2="1"><stop offset="0.0025" stop-color="#5ac764"/><stop offset="0.2839" stop-color="#60ca61"/><stop offset="0.4447" stop-color="#84d44b"/><stop offset="0.6457" stop-color="#7ad151"/><stop offset="0.8015" stop-color="#59c765"/><stop offset="0.8719" stop-color="#3dbb74"/><stop offset="0.9472" stop-color="#1f9f88"/><stop offset="0.9623" stop-color="#238c8d"/><stop offset="0.9774" stop-color="#423f85"/><stop offset="0.9824" stop-color="#482272"/><stop offset="0.9874" stop-color="#471164"/><stop offset="0.9975" stop-color="#460d60"/></linearGradient><linearGradient id="k101" x1="0" y1="0" x2="0" y2="1"><stop offset="0.0025" stop-color="#54c567"/><stop offset="0.2789" stop-color="#5ac764"/><stop offset="0.4447" stop-color="#82d44c"/><stop offset="0.6407" stop-color="#79d152"/><stop offset="0.8116" stop-color="#52c468"/><stop offset="0.9322" stop-color="#23a685"/><stop offset="0.9573" stop-color="#21938b"/><stop offset="0.9623" stop-color="#25858e"/><stop offset="0.9724" stop-color="#3c4f8a"/><stop offset="0.9824" stop-color="#481a6c"/><stop offset="0.9925" stop-color="#460d60"/><stop offset="0.9975" stop-color="#460d60"/></linearGradient><linearGradient id="k102" x1="0" y1="0" x2="0" y2="1"><stop offset="0.0025" stop-color="#4ec26b"/><stop offset="0.2739" stop-color="#53c468"/><stop offset="0.4447" stop-color="#81d34d"/><stop offset="0.6357" stop-color="#78d152"/><stop offset="0.8166" stop-color="#4dc26b"/><stop offset="0.9221" stop-color="#24a884"/><stop offset="0.9523" stop-color="#20968b"/><stop offset="0.9573" stop-color="#228e8c"/><stop offset="0.9623" stop-color="#297b8e"/><stop offset="0.9724" stop-color="#414487"/><stop offset="0.9774" stop-color="#472675"/><stop offset="0.9824" stop-color="#471365"/><stop offset="0.9975" stop-color="#460d60"/></linearGradient><linearGradient id="k103" x1="0" y1="0" x2="0" y2="1"><stop offset="0.0025" stop-color="#47bf6e"/><stop offset="0.2739" stop-color="#4dc26b"/><stop offset="0.4397" stop-color="#7fd24e"/><stop offset="0.6357" stop-color="#76d053"/><stop offset="0.8216" stop-color="#47bf6e"/><stop offset="0.9121" stop-color="#24a883"/><stop offset="0.9523" stop-color="#21938b"/><stop offset="0.9573" stop-color="#24878d"/><stop offset="0.9673" stop-color="#3b538b"/><stop offset="0.9774" stop-color="#481d6e"/><stop offset="0.9824" stop-color="#460f62"/><stop offset="0.9975" stop-color="#460d60"/></linearGradient><linearGradient id="k104" x1="0" y1="0" x2="0" y2="1"><stop offset="0.0025" stop-color="#42bd71"/><stop offset="0.2688" stop-color="#47bf6f"/><stop offset="0.4397" stop-color="#7dd24f"/><stop offset="0.6307" stop-color="#75d054"/><stop offset="0.8166" stop-color="#45bf70"/><stop offset="0.9121" stop-color="#23a685"/><stop offset="0.9472" stop-color="#20968b"/><stop offset="0.9523" stop-color="#228f8c"/><stop offset="0.9573" stop-color="#287e8e"/><stop offset="0.9673" stop-color="#3f4888"/><stop offset="0.9774" stop-color="#471567"/><stop offset="0.9925" stop-color="#460d60"/><stop offset="0.9975" stop-color="#460d60"/></linearGradient><linearGradient id="k105" x1="0" y1="0" x2="0" y2="1"><stop offset="0.0025" stop-color="#3ebc73"/><stop offset="0.2688" stop-color="#43be71"/><stop offset="0.4397" stop-color="#7bd150"/><stop offset="0.6307" stop-color="#73cf55"/><stop offset="0.8116" stop-color="#43be71"/><stop offset="0.9070" stop-color="#22a585"/><stop offset="0.9472" stop-color="#21938b"/><stop offset="0.9523" stop-color="#24888d"/><stop offset="0.9623" stop-color="#39568c"/><stop offset="0.9724" stop-color="#482071"/><stop offset="0.9774" stop-color="#461063"/><stop offset="0.9975" stop-color="#460d60"/></linearGradient><linearGradient id="k106" x1="0" y1="0" x2="0" y2="1"><stop offset="0.0025" stop-color="#3cba75"/><stop offset="0.2739" stop-color="#41bd72"/><stop offset="0.4397" stop-color="#76d053"/><stop offset="0.6357" stop-color="#70ce57"/><stop offset="0.8065" stop-color="#41bd72"/><stop offset="0.9121" stop-color="#20a187"/><stop offset="0.9472" stop-color="#228f8c"/><stop offset="0.9523" stop-color="#27808e"/><stop offset="0.9623" stop-color="#3e4c89"/><stop offset="0.9724" stop-color="#48186a"/><stop offset="0.9824" stop-color="#460d60"/><stop offset="0.9975" stop-color="#460d60"/></linearGradient><linearGradient id="k107" x1="0" y1="0" x2="0" y2="1"><stop offset="0.0025" stop-color="#39b877"/><stop offset="0.2789" stop-color="#3ebb73"/><stop offset="0.4447" stop-color="#6ece58"/><stop offset="0.6407" stop-color="#6bcd5a"/><stop offset="0.8015" stop-color="#40bc73"/><stop offset="0.9121" stop-color="#1f9f88"/><stop offset="0.9422" stop-color="#21928c"/><stop offset="0.9472" stop-color="#24898d"/><stop offset="0.9623" stop-color="#424085"/><stop offset="0.9673" stop-color="#482374"/><stop offset="0.9724" stop-color="#471264"/><stop offset="0.9975" stop-color="#460d60"/></linearGradient><linearGradient id="k108" x1="0" y1="0" x2="0" y2="1"><stop offset="0.0025" stop-color="#36b678"/><stop offset="0.2839" stop-color="#3cba75"/><stop offset="0.4497" stop-color="#63ca5f"/><stop offset="0.6508" stop-color="#66cb5d"/><stop offset="0.8116" stop-color="#3ab976"/><stop offset="0.9070" stop-color="#1f9e88"/><stop offset="0.9422" stop-color="#228f8c"/><stop offset="0.9472" stop-color="#26828e"/><stop offset="0.9573" stop-color="#3c4f8a"/><stop offset="0.9673" stop-color="#481b6d"/><stop offset="0.9774" stop-color="#460d60"/><stop offset="0.9975" stop-color="#460d60"/></linearGradient><linearGradient id="k109" x1="0" y1="0" x2="0" y2="1"><stop offset="0.0025" stop-color="#34b579"/><stop offset="0.2940" stop-color="#3ab976"/><stop offset="0.4548" stop-color="#57c666"/><stop offset="0.5905" stop-color="#5fc961"/><stop offset="0.6709" stop-color="#60c961"/><stop offset="0.8467" stop-color="#2bb07e"/><stop offset="0.9171" stop-color="#20998a"/><stop offset="0.9422" stop-color="#238a8d"/><stop offset="0.9472" stop-color="#2a788e"/><stop offset="0.9573" stop-color="#414587"/><stop offset="0.9623" stop-color="#472777"/><stop offset="0.9673" stop-color="#471466"/><stop offset="0.9925" stop-color="#460d60"/><stop offset="0.9975" stop-color="#460d60"/></linearGradient><linearGradient id="k110" x1="0" y1="0" x2="0" y2="1"><stop offset="0.0025" stop-color="#36b678"/><stop offset="0.3090" stop-color="#3cba75"/><stop offset="0.4749" stop-color="#4fc36a"/><stop offset="0.5854" stop-color="#58c665"/><stop offset="0.6658" stop-color="#5ec962"/><stop offset="0.8518" stop-color="#27ac81"/><stop offset="0.9271" stop-color="#21948b"/><stop offset="0.9372" stop-color="#228e8c"/><stop offset="0.9422" stop-color="#26838e"/><stop offset="0.9523" stop-color="#3b538b"/><stop offset="0.9623" stop-color="#481e6f"/><stop offset="0.9673" stop-color="#461062"/><stop offset="0.9975" stop-color="#460d60"/></linearGradient><linearGradient id="k111" x1="0" y1="0" x2="0" y2="1"><stop offset="0.0025" stop-color="#39b876"/><stop offset="0.3392" stop-color="#40bd72"/><stop offset="0.5754" stop-color="#51c369"/><stop offset="0.6558" stop-color="#5dc963"/><stop offset="0.8015" stop-color="#35b679"/><stop offset="0.8970" stop-color="#209a8a"/><stop offset="0.9372" stop-color="#24898d"/><stop offset="0.9422" stop-color="#297a8e"/><stop offset="0.9523" stop-color="#3f4888"/><stop offset="0.9623" stop-color="#471668"/><stop offset="0.9724" stop-color="#460d60"/><stop offset="0.9975" stop-color="#460d60"/></linearGradient><linearGradient id="k112" x1="0" y1="0" x2="0" y2="1"><stop offset="0.0025" stop-color="#3dbb74"/><stop offset="0.5503" stop-color="#48c06e"/><stop offset="0.6508" stop-color="#5bc863"/><stop offset="0.7864" stop-color="#38b777"/><stop offset="0.8819" stop-color="#209c89"/><stop offset="0.9322" stop-color="#238c8d"/><stop offset="0.9372" stop-color="#25848e"/><stop offset="0.9523" stop-color="#433c83"/><stop offset="0.9573" stop-color="#482172"/><stop offset="0.9623" stop-color="#471163"/><stop offset="0.9975" stop-color="#460d60"/></linearGradient><linearGradient id="k113" x1="0" y1="0" x2="0" y2="1"><stop offset="0.0025" stop-color="#42bd71"/><stop offset="0.5653" stop-color="#4bc16c"/><stop offset="0.6508" stop-color="#5ac764"/><stop offset="0.7915" stop-color="#33b57a"/><stop offset="0.8819" stop-color="#209a8a"/><stop offset="0.9322" stop-color="#24898d"/><stop offset="0.9372" stop-color="#287c8e"/><stop offset="0.9472" stop-color="#3e4b89"/><stop offset="0.9573" stop-color="#48196b"/><stop offset="0.9673" stop-color="#460d60"/><stop offset="0.9975" stop-color="#460d60"/></linearGradient><linearGradient id="k114" x1="0" y1="0" x2="0" y2="1"><stop offset="0.0025" stop-color="#47bf6e"/><stop offset="0.5653" stop-color="#4cc26c"/><stop offset="0.6508" stop-color="#58c765"/><stop offset="0.8015" stop-color="#2cb17d"/><stop offset="0.8869" stop-color="#20958b"/><stop offset="0.9322" stop-color="#26838e"/><stop offset="0.9422" stop-color="#38598c"/><stop offset="0.9472" stop-color="#424185"/><stop offset="0.9523" stop-color="#482474"/><stop offset="0.9573" stop-color="#471365"/><stop offset="0.9975" stop-color="#460d60"/></linearGradient><linearGradient id="k115" x1="0" y1="0" x2="0" y2="1"><stop offset="0.0025" stop-color="#4ac16d"/><stop offset="0.5704" stop-color="#4fc36a"/><stop offset="0.6508" stop-color="#57c666"/><stop offset="0.8317" stop-color="#24a884"/><stop offset="0.9221" stop-color="#24898d"/><stop offset="0.9322" stop-color="#287c8e"/><stop offset="0.9422" stop-color="#3d4e8a"/><stop offset="0.9523" stop-color="#481c6d"/><stop offset="0.9573" stop-color="#460f62"/><stop offset="0.9975" stop-color="#460d60"/></linearGradient><linearGradient id="k116" x1="0" y1="0" x2="0" y2="1"><stop offset="0.0025" stop-color="#4dc26b"/><stop offset="0.5754" stop-color="#52c469"/><stop offset="0.6558" stop-color="#54c567"/><stop offset="0.8367" stop-color="#22a486"/><stop offset="0.9271" stop-color="#26828e"/><stop offset="0.9372" stop-color="#375b8c"/><stop offset="0.9422" stop-color="#414587"/><stop offset="0.9523" stop-color="#471567"/><stop offset="0.9724" stop-color="#460d60"/><stop offset="0.9975" stop-color="#460d60"/></linearGradient><linearGradient id="k117" x1="0" y1="0" x2="0" y2="1"><stop offset="0.0025" stop-color="#50c36a"/><stop offset="0.5854" stop-color="#55c567"/><stop offset="0.6658" stop-color="#51c369"/><stop offset="0.8417" stop-color="#20a187"/><stop offset="0.9221" stop-color="#25848e"/><stop offset="0.9271" stop-color="#287c8e"/><stop offset="0.9372" stop-color="#3b518b"/><stop offset="0.9472" stop-color="#481f70"/><stop offset="0.9523" stop-color="#461063"/><stop offset="0.9975" stop-color="#460d60"/></linearGradient><linearGradient id="k118" x1="0" y1="0" x2="0" y2="1"><stop offset="0.0025" stop-color="#53c468"/><stop offset="0.6005" stop-color="#58c765"/><stop offset="0.7161" stop-color="#40bc72"/><stop offset="0.8367" stop-color="#1fa088"/><stop offset="0.9221" stop-color="#27808e"/><stop offset="0.9271" stop-color="#2b748e"/><stop offset="0.9372" stop-color="#404788"/><stop offset="0.9472" stop-color="#481769"/><stop offset="0.9573" stop-color="#460d60"/><stop offset="0.9975" stop-color="#460d60"/></linearGradient><linearGradient id="k119" x1="0" y1="0" x2="0" y2="1"><stop offset="0.0025" stop-color="#55c567"/><stop offset="0.6357" stop-color="#55c567"/><stop offset="0.8166" stop-color="#22a486"/><stop offset="0.9221" stop-color="#297a8e"/><stop offset="0.9372" stop-color="#433b83"/><stop offset="0.9422" stop-color="#482172"/><stop offset="0.9472" stop-color="#471264"/><stop offset="0.9975" stop-color="#460d60"/></linearGradient><linearGradient id="k120" x1="0" y1="0" x2="0" y2="1"><stop offset="0.0025" stop-color="#57c666"/><stop offset="0.6307" stop-color="#55c567"/><stop offset="0.8116" stop-color="#21a486"/><stop offset="0.9171" stop-color="#287d8e"/><stop offset="0.9221" stop-color="#2c738e"/><stop offset="0.9322" stop-color="#3f4a89"/><stop offset="0.9422" stop-color="#481a6c"/><stop offset="0.9523" stop-color="#460d60"/><stop offset="0.9975" stop-color="#460d60"/></linearGradient><linearGradient id="k121" x1="0" y1="0" x2="0" y2="1"><stop offset="0.0025" stop-color="#57c666"/><stop offset="0.6307" stop-color="#54c568"/><stop offset="0.8116" stop-color="#20a287"/><stop offset="0.9171" stop-color="#2a788e"/><stop offset="0.9322" stop-color="#423f85"/><stop offset="0.9422" stop-color="#471366"/><stop offset="0.9874" stop-color="#460d60"/><stop offset="0.9975" stop-color="#460d60"/></linearGradient><linearGradient id="k122" x1="0" y1="0" x2="0" y2="1"><stop offset="0.0025" stop-color="#56c666"/><stop offset="0.6307" stop-color="#52c469"/><stop offset="0.8116" stop-color="#1fa088"/><stop offset="0.9121" stop-color="#297a8e"/><stop offset="0.9171" stop-color="#2c728e"/><stop offset="0.9271" stop-color="#3e4c89"/><stop offset="0.9372" stop-color="#481c6e"/><stop offset="0.9422" stop-color="#461062"/><stop offset="0.9975" stop-color="#460d60"/></linearGradient><linearGradient id="k123" x1="0" y1="0" x2="0" y2="1"><stop offset="0.0025" stop-color="#55c567"/><stop offset="0.6256" stop-color="#52c469"/><stop offset="0.8015" stop-color="#20a287"/><stop offset="0.9121" stop-color="#2b768e"/><stop offset="0.9271" stop-color="#424286"/><stop offset="0.9372" stop-color="#471567"/><stop offset="0.9523" stop-color="#460d60"/><stop offset="0.9975" stop-color="#460d60"/></linearGradient><linearGradient id="k124" x1="0" y1="0" x2="0" y2="1"><stop offset="0.0025" stop-color="#53c468"/><stop offset="0.6256" stop-color="#50c36a"/><stop offset="0.7965" stop-color="#20a287"/><stop offset="0.9121" stop-color="#2d708e"/><stop offset="0.9271" stop-color="#453580"/><stop offset="0.9372" stop-color="#471163"/><stop offset="0.9975" stop-color="#460d60"/></linearGradient><linearGradient id="k125" x1="0" y1="0" x2="0" y2="1"><stop offset="0.0025" stop-color="#52c469"/><stop offset="0.6256" stop-color="#4fc36a"/><stop offset="0.7915" stop-color="#20a287"/><stop offset="0.9070" stop-color="#2c738e"/><stop offset="0.9221" stop-color="#414487"/><stop offset="0.9322" stop-color="#48176a"/><stop offset="0.9422" stop-color="#460d60"/><stop offset="0.9975" stop-color="#460d60"/></linearGradient><linearGradient id="k126" x1="0" y1="0" x2="0" y2="1"><stop offset="0.0025" stop-color="#50c36a"/><stop offset="0.6256" stop-color="#4dc26b"/><stop offset="0.7814" stop-color="#21a486"/><stop offset="0.9020" stop-color="#2c738e"/><stop offset="0.9121" stop-color="#345f8d"/><stop offset="0.9221" stop-color="#443881"/><stop offset="0.9322" stop-color="#471264"/><stop offset="0.9975" stop-color="#460d60"/></linearGradient><linearGradient id="k127" x1="0" y1="0" x2="0" y2="1"><stop offset="0.0025" stop-color="#4ec26b"/><stop offset="0.6256" stop-color="#4bc16c"/><stop offset="0.7814" stop-color="#20a287"/><stop offset="0.9020" stop-color="#2d6f8e"/><stop offset="0.9171" stop-color="#404688"/><stop offset="0.9271" stop-color="#481a6c"/><stop offset="0.9372" stop-color="#460d60"/><stop offset="0.9975" stop-color="#460d60"/></linearGradient><linearGradient id="k128" x1="0" y1="0" x2="0" y2="1"><stop offset="0.0025" stop-color="#4ac16d"/><stop offset="0.6256" stop-color="#49c06e"/><stop offset="0.7764" stop-color="#20a287"/><stop offset="0.9020" stop-color="#2f6a8e"/><stop offset="0.9171" stop-color="#443b83"/><stop offset="0.9271" stop-color="#471466"/><stop offset="0.9623" stop-color="#460d60"/><stop offset="0.9975" stop-color="#460d60"/></linearGradient><linearGradient id="k129" x1="0" y1="0" x2="0" y2="1"><stop offset="0.0025" stop-color="#46bf6f"/><stop offset="0.6307" stop-color="#45bf6f"/><stop offset="0.7764" stop-color="#1fa188"/><stop offset="0.8970" stop-color="#2f6b8e"/><stop offset="0.9070" stop-color="#38578c"/><stop offset="0.9171" stop-color="#472f7d"/><stop offset="0.9271" stop-color="#461062"/><stop offset="0.9975" stop-color="#460d60"/></linearGradient><linearGradient id="k130" x1="0" y1="0" x2="0" y2="1"><stop offset="0.0025" stop-color="#43be71"/><stop offset="0.6307" stop-color="#43be71"/><stop offset="0.7764" stop-color="#1f9f88"/><stop offset="0.8970" stop-color="#31678d"/><stop offset="0.9121" stop-color="#433d83"/><stop offset="0.9221" stop-color="#471567"/><stop offset="0.9372" stop-color="#460d60"/><stop offset="0.9975" stop-color="#460d60"/></linearGradient><linearGradient id="k131" x1="0" y1="0" x2="0" y2="1"><stop offset="0.0025" stop-color="#3fbc73"/><stop offset="0.5955" stop-color="#45be70"/><stop offset="0.7513" stop-color="#22a585"/><stop offset="0.8618" stop-color="#2a788e"/><stop offset="0.8970" stop-color="#33628d"/><stop offset="0.9070" stop-color="#3f4888"/><stop offset="0.9171" stop-color="#481e6f"/><stop offset="0.9271" stop-color="#460d60"/><stop offset="0.9975" stop-color="#460d60"/></linearGradient><linearGradient id="k132" x1="0" y1="0" x2="0" y2="1"><stop offset="0.0025" stop-color="#3dbb74"/><stop offset="0.5955" stop-color="#42bd71"/><stop offset="0.7462" stop-color="#22a585"/><stop offset="0.8568" stop-color="#29798e"/><stop offset="0.8970" stop-color="#365c8c"/><stop offset="0.9070" stop-color="#433e84"/><stop offset="0.9171" stop-color="#481769"/><stop offset="0.9271" stop-color="#460d60"/><stop offset="0.9975" stop-color="#460d60"/></linearGradient><linearGradient id="k133" x1="0" y1="0" x2="0" y2="1"><stop offset="0.0025" stop-color="#3dbb74"/><stop offset="0.6357" stop-color="#3dbb74"/><stop offset="0.7663" stop-color="#1f9e89"/><stop offset="0.8719" stop-color="#2e6d8e"/><stop offset="0.8970" stop-color="#39568c"/><stop offset="0.9070" stop-color="#46337f"/><stop offset="0.9171" stop-color="#471264"/><stop offset="0.9975" stop-color="#460d60"/></linearGradient><linearGradient id="k134" x1="0" y1="0" x2="0" y2="1"><stop offset="0.0025" stop-color="#3dbb74"/><stop offset="0.6307" stop-color="#3dbb74"/><stop offset="0.7663" stop-color="#209c89"/><stop offset="0.8719" stop-color="#306a8e"/><stop offset="0.8920" stop-color="#375a8c"/><stop offset="0.9020" stop-color="#423f85"/><stop offset="0.9121" stop-color="#48196b"/><stop offset="0.9221" stop-color="#460d60"/><stop offset="0.9975" stop-color="#460d60"/></linearGradient><linearGradient id="k135" x1="0" y1="0" x2="0" y2="1"><stop offset="0.0025" stop-color="#3dbb74"/><stop offset="0.6357" stop-color="#3dbb74"/><stop offset="0.7613" stop-color="#209c89"/><stop offset="0.8668" stop-color="#2e6e8e"/><stop offset="0.8920" stop-color="#37598c"/><stop offset="0.9020" stop-color="#433d84"/><stop offset="0.9121" stop-color="#481b6c"/><stop offset="0.9573" stop-color="#471264"/><stop offset="0.9975" stop-color="#471163"/></linearGradient><linearGradient id="k136" x1="0" y1="0" x2="0" y2="1"><stop offset="0.0025" stop-color="#3fbc73"/><stop offset="0.5854" stop-color="#45be70"/><stop offset="0.6709" stop-color="#41bd72"/><stop offset="0.7412" stop-color="#20a187"/><stop offset="0.8166" stop-color="#24898d"/><stop offset="0.8668" stop-color="#2a768e"/><stop offset="0.8920" stop-color="#33628d"/><stop offset="0.9020" stop-color="#3f4a89"/><stop offset="0.9121" stop-color="#472978"/><stop offset="0.9975" stop-color="#481a6c"/></linearGradient><linearGradient id="k137" x1="0" y1="0" x2="0" y2="1"><stop offset="0.0025" stop-color="#44be70"/><stop offset="0.5653" stop-color="#49c06d"/><stop offset="0.6658" stop-color="#4cc16c"/><stop offset="0.7161" stop-color="#24a883"/><stop offset="0.7663" stop-color="#24898d"/><stop offset="0.8216" stop-color="#297b8e"/><stop offset="0.8618" stop-color="#2f6c8e"/><stop offset="0.8920" stop-color="#3b538b"/><stop offset="0.8970" stop-color="#404788"/><stop offset="0.9070" stop-color="#48186a"/><stop offset="0.9171" stop-color="#460b5e"/><stop offset="0.9975" stop-color="#45075a"/></linearGradient><linearGradient id="k138" x1="0" y1="0" x2="0" y2="1"><stop offset="0.0025" stop-color="#4fc36a"/><stop offset="0.5905" stop-color="#55c567"/><stop offset="0.6608" stop-color="#53c468"/><stop offset="0.7111" stop-color="#25a983"/><stop offset="0.7513" stop-color="#228d8c"/><stop offset="0.8015" stop-color="#2b748e"/><stop offset="0.8568" stop-color="#30688d"/><stop offset="0.8920" stop-color="#3e4a89"/><stop offset="0.8970" stop-color="#453781"/><stop offset="0.9070" stop-color="#45085b"/><stop offset="0.9422" stop-color="#440154"/><stop offset="0.9975" stop-color="#440154"/></linearGradient><linearGradient id="k139" x1="0" y1="0" x2="0" y2="1"><stop offset="0.0025" stop-color="#61ca60"/><stop offset="0.6508" stop-color="#5fc962"/><stop offset="0.7060" stop-color="#26ab82"/><stop offset="0.7462" stop-color="#228e8c"/><stop offset="0.8015" stop-color="#2e6e8e"/><stop offset="0.8618" stop-color="#34608d"/><stop offset="0.8869" stop-color="#3d4e8a"/><stop offset="0.8920" stop-color="#424186"/><stop offset="0.9020" stop-color="#460f62"/><stop offset="0.9121" stop-color="#440154"/><stop offset="0.9975" stop-color="#440154"/></linearGradient><linearGradient id="k140" x1="0" y1="0" x2="0" y2="1"><stop offset="0.0025" stop-color="#70ce57"/><stop offset="0.6407" stop-color="#6ccd5a"/><stop offset="0.6759" stop-color="#47bf6e"/><stop offset="0.7060" stop-color="#25a983"/><stop offset="0.7412" stop-color="#21908c"/><stop offset="0.8015" stop-color="#30688d"/><stop offset="0.8668" stop-color="#375a8c"/><stop offset="0.8869" stop-color="#404788"/><stop offset="0.8920" stop-color="#46317e"/><stop offset="0.9020" stop-color="#45075a"/><stop offset="0.9523" stop-color="#440154"/><stop offset="0.9975" stop-color="#440154"/></linearGradient><linearGradient id="k141" x1="0" y1="0" x2="0" y2="1"><stop offset="0.0025" stop-color="#76d053"/><stop offset="0.6357" stop-color="#70ce57"/><stop offset="0.6658" stop-color="#55c567"/><stop offset="0.7010" stop-color="#27ac81"/><stop offset="0.7362" stop-color="#21928c"/><stop offset="0.8015" stop-color="#33638d"/><stop offset="0.8719" stop-color="#39558b"/><stop offset="0.8819" stop-color="#3f4988"/><stop offset="0.8920" stop-color="#481f70"/><stop offset="0.8970" stop-color="#460b5e"/><stop offset="0.9121" stop-color="#440154"/><stop offset="0.9975" stop-color="#440154"/></linearGradient><linearGradient id="k142" x1="0" y1="0" x2="0" y2="1"><stop offset="0.0025" stop-color="#76d053"/><stop offset="0.6055" stop-color="#70ce57"/><stop offset="0.6457" stop-color="#68cc5c"/><stop offset="0.7010" stop-color="#26ab82"/><stop offset="0.7362" stop-color="#21908c"/><stop offset="0.8015" stop-color="#355e8d"/><stop offset="0.8719" stop-color="#3b528b"/><stop offset="0.8819" stop-color="#433b83"/><stop offset="0.8920" stop-color="#460f61"/><stop offset="0.9020" stop-color="#440154"/><stop offset="0.9975" stop-color="#440154"/></linearGradient><linearGradient id="k143" x1="0" y1="0" x2="0" y2="1"><stop offset="0.0025" stop-color="#6fce57"/><stop offset="0.6307" stop-color="#69cc5b"/><stop offset="0.6608" stop-color="#56c667"/><stop offset="0.7010" stop-color="#25aa82"/><stop offset="0.7362" stop-color="#228f8c"/><stop offset="0.7965" stop-color="#365b8c"/><stop offset="0.8668" stop-color="#3c508a"/><stop offset="0.8769" stop-color="#423f85"/><stop offset="0.8869" stop-color="#471264"/><stop offset="0.8970" stop-color="#440255"/><stop offset="0.9975" stop-color="#440154"/></linearGradient><linearGradient id="k144" x1="0" y1="0" x2="0" y2="1"><stop offset="0.0025" stop-color="#5fc961"/><stop offset="0.6457" stop-color="#5cc863"/><stop offset="0.6859" stop-color="#33b47a"/><stop offset="0.7161" stop-color="#1f9f88"/><stop offset="0.7965" stop-color="#38588c"/><stop offset="0.8568" stop-color="#3d4d8a"/><stop offset="0.8719" stop-color="#443b83"/><stop offset="0.8869" stop-color="#45075a"/><stop offset="0.9372" stop-color="#440154"/><stop offset="0.9975" stop-color="#440154"/></linearGradient><linearGradient id="k145" x1="0" y1="0" x2="0" y2="1"><stop offset="0.0025" stop-color="#4dc26b"/><stop offset="0.5905" stop-color="#54c568"/><stop offset="0.6558" stop-color="#51c369"/><stop offset="0.7060" stop-color="#22a585"/><stop offset="0.7563" stop-color="#297a8e"/><stop offset="0.8015" stop-color="#3b528b"/><stop offset="0.8417" stop-color="#3f4988"/><stop offset="0.8668" stop-color="#472978"/><stop offset="0.8869" stop-color="#440356"/><stop offset="0.9975" stop-color="#440154"/></linearGradient><linearGradient id="k146" x1="0" y1="0" x2="0" y2="1"><stop offset="0.0025" stop-color="#47bf6e"/><stop offset="0.5754" stop-color="#4dc26b"/><stop offset="0.6558" stop-color="#4ec26b"/><stop offset="0.7060" stop-color="#22a585"/><stop offset="0.7563" stop-color="#29798e"/><stop offset="0.8166" stop-color="#424286"/><stop offset="0.8417" stop-color="#46327e"/><stop offset="0.8819" stop-color="#440255"/><stop offset="0.9975" stop-color="#440154"/></linearGradient><linearGradient id="k147" x1="0" y1="0" x2="0" y2="1"><stop offset="0.0025" stop-color="#44be70"/><stop offset="0.5804" stop-color="#4ac16d"/><stop offset="0.6558" stop-color="#4cc16c"/><stop offset="0.7111" stop-color="#20a187"/><stop offset="0.7764" stop-color="#33628d"/><stop offset="0.7965" stop-color="#3d4d8a"/><stop offset="0.8116" stop-color="#472776"/><stop offset="0.8719" stop-color="#440255"/><stop offset="0.9975" stop-color="#440154"/></linearGradient><linearGradient id="k148" x1="0" y1="0" x2="0" y2="1"><stop offset="0.0025" stop-color="#41bd72"/><stop offset="0.5804" stop-color="#47bf6f"/><stop offset="0.6558" stop-color="#4ac06d"/><stop offset="0.7111" stop-color="#20a187"/><stop offset="0.7764" stop-color="#33628d"/><stop offset="0.7965" stop-color="#3d4d89"/><stop offset="0.8065" stop-color="#482272"/><stop offset="0.8116" stop-color="#471264"/><stop offset="0.8668" stop-color="#440154"/><stop offset="0.9975" stop-color="#440154"/></linearGradient><linearGradient id="k149" x1="0" y1="0" x2="0" y2="1"><stop offset="0.0025" stop-color="#3ebc73"/><stop offset="0.5905" stop-color="#44be70"/><stop offset="0.6608" stop-color="#45bf70"/><stop offset="0.7111" stop-color="#20a187"/><stop offset="0.7764" stop-color="#33628d"/><stop offset="0.7965" stop-color="#3c4f8a"/><stop offset="0.8015" stop-color="#424085"/><stop offset="0.8116" stop-color="#460d60"/><stop offset="0.8216" stop-color="#440355"/><stop offset="0.9975" stop-color="#440154"/></linearGradient><linearGradient id="k150" x1="0" y1="0" x2="0" y2="1"><stop offset="0.0025" stop-color="#3bb975"/><stop offset="0.6005" stop-color="#41bd72"/><stop offset="0.6608" stop-color="#43be71"/><stop offset="0.7111" stop-color="#20a287"/><stop offset="0.7764" stop-color="#33638d"/><stop offset="0.8015" stop-color="#404788"/><stop offset="0.8065" stop-color="#472e7c"/><stop offset="0.8116" stop-color="#471365"/><stop offset="0.8166" stop-color="#450457"/><stop offset="0.9975" stop-color="#440154"/></linearGradient><linearGradient id="k151" x1="0" y1="0" x2="0" y2="1"><stop offset="0.0025" stop-color="#37b777"/><stop offset="0.6005" stop-color="#3dbb74"/><stop offset="0.6658" stop-color="#3fbc73"/><stop offset="0.7161" stop-color="#1f9e89"/><stop offset="0.7965" stop-color="#3a548b"/><stop offset="0.8015" stop-color="#3d4c89"/><stop offset="0.8065" stop-color="#443982"/><stop offset="0.8166" stop-color="#45085a"/><stop offset="0.8568" stop-color="#440154"/><stop offset="0.9975" stop-color="#440154"/></linearGradient><linearGradient id="k152" x1="0" y1="0" x2="0" y2="1"><stop offset="0.0025" stop-color="#34b579"/><stop offset="0.6005" stop-color="#3ab976"/><stop offset="0.6709" stop-color="#3cba75"/><stop offset="0.7161" stop-color="#1f9f88"/><stop offset="0.8015" stop-color="#3c4f8a"/><stop offset="0.8065" stop-color="#424286"/><stop offset="0.8166" stop-color="#460d5f"/><stop offset="0.8266" stop-color="#440154"/><stop offset="0.9975" stop-color="#440154"/></linearGradient><linearGradient id="k153" x1="0" y1="0" x2="0" y2="1"><stop offset="0.0025" stop-color="#30b37c"/><stop offset="0.5854" stop-color="#35b678"/><stop offset="0.6709" stop-color="#3bba75"/><stop offset="0.7161" stop-color="#1f9f88"/><stop offset="0.8015" stop-color="#3b518b"/><stop offset="0.8065" stop-color="#404788"/><stop offset="0.8116" stop-color="#472e7c"/><stop offset="0.8166" stop-color="#471264"/><stop offset="0.8216" stop-color="#440457"/><stop offset="0.9975" stop-color="#440154"/></linearGradient><linearGradient id="k154" x1="0" y1="0" x2="0" y2="1"><stop offset="0.0025" stop-color="#26ac81"/><stop offset="0.5754" stop-color="#2cb07e"/><stop offset="0.6709" stop-color="#39b976"/><stop offset="0.7211" stop-color="#1f9c89"/><stop offset="0.8015" stop-color="#3a538b"/><stop offset="0.8065" stop-color="#3e4a89"/><stop offset="0.8116" stop-color="#46327f"/><stop offset="0.8166" stop-color="#471567"/><stop offset="0.8216" stop-color="#450557"/><stop offset="0.9975" stop-color="#440154"/></linearGradient><linearGradient id="k155" x1="0" y1="0" x2="0" y2="1"><stop offset="0.0025" stop-color="#22a585"/><stop offset="0.5653" stop-color="#26aa82"/><stop offset="0.6407" stop-color="#31b47b"/><stop offset="0.6759" stop-color="#36b678"/><stop offset="0.7211" stop-color="#1f9d89"/><stop offset="0.8015" stop-color="#3b528b"/><stop offset="0.8065" stop-color="#3f4988"/><stop offset="0.8116" stop-color="#46317e"/><stop offset="0.8166" stop-color="#471466"/><stop offset="0.8216" stop-color="#450457"/><stop offset="0.9975" stop-color="#440154"/></linearGradient><linearGradient id="k156" x1="0" y1="0" x2="0" y2="1"><stop offset="0.0025" stop-color="#28ae80"/><stop offset="0.5905" stop-color="#2eb17d"/><stop offset="0.6709" stop-color="#37b777"/><stop offset="0.7211" stop-color="#209b89"/><stop offset="0.8015" stop-color="#3c518b"/><stop offset="0.8065" stop-color="#404688"/><stop offset="0.8166" stop-color="#471164"/><stop offset="0.8216" stop-color="#440457"/><stop offset="0.9975" stop-color="#440154"/></linearGradient><linearGradient id="k157" x1="0" y1="0" x2="0" y2="1"><stop offset="0.0025" stop-color="#37b778"/><stop offset="0.6407" stop-color="#38b877"/><stop offset="0.6809" stop-color="#32b47a"/><stop offset="0.7161" stop-color="#1f9d89"/><stop offset="0.8015" stop-color="#3c508a"/><stop offset="0.8065" stop-color="#414487"/><stop offset="0.8166" stop-color="#460f61"/><stop offset="0.8266" stop-color="#440154"/><stop offset="0.9975" stop-color="#440154"/></linearGradient><linearGradient id="k158" x1="0" y1="0" x2="0" y2="1"><stop offset="0.0025" stop-color="#3bba75"/><stop offset="0.5955" stop-color="#35b679"/><stop offset="0.6709" stop-color="#36b778"/><stop offset="0.7161" stop-color="#209c89"/><stop offset="0.8015" stop-color="#3c4f8a"/><stop offset="0.8065" stop-color="#424186"/><stop offset="0.8166" stop-color="#460c5e"/><stop offset="0.8266" stop-color="#440154"/><stop offset="0.9975" stop-color="#440154"/></linearGradient><linearGradient id="k159" x1="0" y1="0" x2="0" y2="1"><stop offset="0.0025" stop-color="#30b37b"/><stop offset="0.6357" stop-color="#30b37c"/><stop offset="0.6759" stop-color="#33b57a"/><stop offset="0.7111" stop-color="#1f9e89"/><stop offset="0.7965" stop-color="#3a548b"/><stop offset="0.8015" stop-color="#3d4d8a"/><stop offset="0.8065" stop-color="#443b83"/><stop offset="0.8166" stop-color="#45085b"/><stop offset="0.8417" stop-color="#440154"/><stop offset="0.9975" stop-color="#440154"/></linearGradient><linearGradient id="k160" x1="0" y1="0" x2="0" y2="1"><stop offset="0.0025" stop-color="#26ab81"/><stop offset="0.6357" stop-color="#2aaf7f"/><stop offset="0.6709" stop-color="#33b57a"/><stop offset="0.7111" stop-color="#1f9d89"/><stop offset="0.7965" stop-color="#3b518b"/><stop offset="0.8015" stop-color="#3f4888"/><stop offset="0.8065" stop-color="#472f7d"/><stop offset="0.8116" stop-color="#471467"/><stop offset="0.8166" stop-color="#450558"/><stop offset="0.9975" stop-color="#440154"/></linearGradient><linearGradient id="k161" x1="0" y1="0" x2="0" y2="1"><stop offset="0.0025" stop-color="#22a486"/><stop offset="0.6307" stop-color="#25a983"/><stop offset="0.6759" stop-color="#31b37b"/><stop offset="0.7111" stop-color="#209c89"/><stop offset="0.7965" stop-color="#3d4e8a"/><stop offset="0.8015" stop-color="#433e84"/><stop offset="0.8116" stop-color="#460b5e"/><stop offset="0.8216" stop-color="#440154"/><stop offset="0.9975" stop-color="#440154"/></linearGradient><linearGradient id="k162" x1="0" y1="0" x2="0" y2="1"><stop offset="0.0025" stop-color="#20978a"/><stop offset="0.5905" stop-color="#1f9d89"/><stop offset="0.6357" stop-color="#24a784"/><stop offset="0.6759" stop-color="#30b37b"/><stop offset="0.7111" stop-color="#209b89"/><stop offset="0.7915" stop-color="#3b518b"/><stop offset="0.7965" stop-color="#3f4888"/><stop offset="0.8015" stop-color="#47307d"/><stop offset="0.8065" stop-color="#471567"/><stop offset="0.8116" stop-color="#450658"/><stop offset="0.9975" stop-color="#440154"/></linearGradient><linearGradient id="k163" x1="0" y1="0" x2="0" y2="1"><stop offset="0.0025" stop-color="#25848e"/><stop offset="0.5452" stop-color="#238a8d"/><stop offset="0.6256" stop-color="#20988a"/><stop offset="0.6709" stop-color="#30b37c"/><stop offset="0.7111" stop-color="#209a8a"/><stop offset="0.7915" stop-color="#3d4e8a"/><stop offset="0.7965" stop-color="#433e84"/><stop offset="0.8065" stop-color="#460b5e"/><stop offset="0.8166" stop-color="#440154"/><stop offset="0.9975" stop-color="#440154"/></linearGradient><linearGradient id="k164" x1="0" y1="0" x2="0" y2="1"><stop offset="0.0025" stop-color="#29798e"/><stop offset="0.5352" stop-color="#277f8e"/><stop offset="0.6256" stop-color="#21938b"/><stop offset="0.6658" stop-color="#2db17d"/><stop offset="0.6960" stop-color="#21a486"/><stop offset="0.7513" stop-color="#2b748e"/><stop offset="0.7915" stop-color="#3f4888"/><stop offset="0.7965" stop-color="#46317e"/><stop offset="0.8015" stop-color="#471668"/><stop offset="0.8065" stop-color="#450659"/><stop offset="0.9975" stop-color="#440154"/></linearGradient><linearGradient id="k165" x1="0" y1="0" x2="0" y2="1"><stop offset="0.0025" stop-color="#2c728e"/><stop offset="0.5302" stop-color="#2a778e"/><stop offset="0.6256" stop-color="#228f8c"/><stop offset="0.6558" stop-color="#27ac81"/><stop offset="0.6759" stop-color="#2db17d"/><stop offset="0.7111" stop-color="#20988a"/><stop offset="0.7864" stop-color="#3c508a"/><stop offset="0.7915" stop-color="#414386"/><stop offset="0.8015" stop-color="#460d60"/><stop offset="0.8116" stop-color="#440154"/><stop offset="0.9975" stop-color="#440154"/></linearGradient><linearGradient id="k166" x1="0" y1="0" x2="0" y2="1"><stop offset="0.0025" stop-color="#2e6d8e"/><stop offset="0.5251" stop-color="#2c718e"/><stop offset="0.6256" stop-color="#238c8d"/><stop offset="0.6508" stop-color="#24a884"/><stop offset="0.6759" stop-color="#2cb17e"/><stop offset="0.7111" stop-color="#20978a"/><stop offset="0.7864" stop-color="#3d4e8a"/><stop offset="0.7915" stop-color="#433d84"/><stop offset="0.7965" stop-color="#481d6f"/><stop offset="0.8015" stop-color="#45085b"/><stop offset="0.8317" stop-color="#440154"/><stop offset="0.9975" stop-color="#440154"/></linearGradient><linearGradient id="k167" x1="0" y1="0" x2="0" y2="1"><stop offset="0.0025" stop-color="#31678d"/><stop offset="0.5251" stop-color="#2e6c8e"/><stop offset="0.6206" stop-color="#26838e"/><stop offset="0.6508" stop-color="#23a684"/><stop offset="0.6709" stop-color="#2fb27c"/><stop offset="0.7060" stop-color="#209a8a"/><stop offset="0.7864" stop-color="#3e4c89"/><stop offset="0.7915" stop-color="#453680"/><stop offset="0.7965" stop-color="#48186a"/><stop offset="0.8015" stop-color="#450558"/><stop offset="0.9975" stop-color="#440154"/></linearGradient><linearGradient id="k168" x1="0" y1="0" x2="0" y2="1"><stop offset="0.0025" stop-color="#34608d"/><stop offset="0.5251" stop-color="#32658d"/><stop offset="0.6206" stop-color="#277e8e"/><stop offset="0.6508" stop-color="#22a585"/><stop offset="0.6709" stop-color="#2fb27c"/><stop offset="0.7060" stop-color="#209a8a"/><stop offset="0.7814" stop-color="#3b528b"/><stop offset="0.7864" stop-color="#3f4888"/><stop offset="0.7915" stop-color="#472f7d"/><stop offset="0.7965" stop-color="#471365"/><stop offset="0.8015" stop-color="#450457"/><stop offset="0.9975" stop-color="#440154"/></linearGradient><linearGradient id="k169" x1="0" y1="0" x2="0" y2="1"><stop offset="0.0025" stop-color="#375a8c"/><stop offset="0.5302" stop-color="#345f8d"/><stop offset="0.6206" stop-color="#29798e"/><stop offset="0.6508" stop-color="#21a386"/><stop offset="0.6709" stop-color="#2fb27c"/><stop offset="0.7060" stop-color="#209a8a"/><stop offset="0.7814" stop-color="#3c508a"/><stop offset="0.7864" stop-color="#414487"/><stop offset="0.7965" stop-color="#460e61"/><stop offset="0.8065" stop-color="#440154"/><stop offset="0.9975" stop-color="#440154"/></linearGradient><linearGradient id="k170" x1="0" y1="0" x2="0" y2="1"><stop offset="0.0025" stop-color="#39568c"/><stop offset="0.5302" stop-color="#365c8c"/><stop offset="0.6206" stop-color="#2b758e"/><stop offset="0.6508" stop-color="#20a287"/><stop offset="0.6709" stop-color="#2fb27c"/><stop offset="0.7060" stop-color="#209a8a"/><stop offset="0.7814" stop-color="#3c508a"/><stop offset="0.7864" stop-color="#414286"/><stop offset="0.7965" stop-color="#460c5f"/><stop offset="0.8065" stop-color="#440154"/><stop offset="0.9975" stop-color="#440154"/></linearGradient><linearGradient id="k171" x1="0" y1="0" x2="0" y2="1"><stop offset="0.0025" stop-color="#3a548b"/><stop offset="0.5302" stop-color="#37598c"/><stop offset="0.6206" stop-color="#2c728e"/><stop offset="0.6508" stop-color="#20a187"/><stop offset="0.6709" stop-color="#2fb27c"/><stop offset="0.7060" stop-color="#209a8a"/><stop offset="0.7814" stop-color="#3c508a"/><stop offset="0.7864" stop-color="#424286"/><stop offset="0.7965" stop-color="#460b5e"/><stop offset="0.8065" stop-color="#440154"/><stop offset="0.9975" stop-color="#440154"/></linearGradient></defs>
<clipPath id="cb"><rect x="398.9" y="0.8" width="171.3" height="198"/></clipPath>
<g clip-path="url(#cb)">
<rect x="399" y="0" width="1" height="199" fill="url(#k0)"/><rect x="400" y="0" width="1" height="199" fill="url(#k1)"/><rect x="401" y="0" width="1" height="199" fill="url(#k2)"/><rect x="402" y="0" width="1" height="199" fill="url(#k3)"/><rect x="403" y="0" width="1" height="199" fill="url(#k4)"/><rect x="404" y="0" width="1" height="199" fill="url(#k5)"/><rect x="405" y="0" width="1" height="199" fill="url(#k6)"/><rect x="406" y="0" width="1" height="199" fill="url(#k7)"/><rect x="407" y="0" width="1" height="199" fill="url(#k8)"/><rect x="408" y="0" width="1" height="199" fill="url(#k9)"/><rect x="409" y="0" width="1" height="199" fill="url(#k10)"/><rect x="410" y="0" width="1" height="199" fill="url(#k11)"/><rect x="411" y="0" width="1" height="199" fill="url(#k12)"/><rect x="412" y="0" width="1" height="199" fill="url(#k13)"/><rect x="413" y="0" width="1" height="199" fill="url(#k14)"/><rect x="414" y="0" width="1" height="199" fill="url(#k15)"/><rect x="415" y="0" width="1" height="199" fill="url(#k16)"/><rect x="416" y="0" width="1" height="199" fill="url(#k17)"/><rect x="417" y="0" width="1" height="199" fill="url(#k18)"/><rect x="418" y="0" width="1" height="199" fill="url(#k19)"/><rect x="419" y="0" width="1" height="199" fill="url(#k20)"/><rect x="420" y="0" width="1" height="199" fill="url(#k21)"/><rect x="421" y="0" width="1" height="199" fill="url(#k22)"/><rect x="422" y="0" width="1" height="199" fill="url(#k23)"/><rect x="423" y="0" width="1" height="199" fill="url(#k24)"/><rect x="424" y="0" width="1" height="199" fill="url(#k25)"/><rect x="425" y="0" width="1" height="199" fill="url(#k26)"/><rect x="426" y="0" width="1" height="199" fill="url(#k27)"/><rect x="427" y="0" width="1" height="199" fill="url(#k28)"/><rect x="428" y="0" width="1" height="199" fill="url(#k29)"/><rect x="429" y="0" width="1" height="199" fill="url(#k30)"/><rect x="430" y="0" width="1" height="199" fill="url(#k31)"/><rect x="431" y="0" width="1" height="199" fill="url(#k32)"/><rect x="432" y="0" width="1" height="199" fill="url(#k33)"/><rect x="433" y="0" width="1" height="199" fill="url(#k34)"/><rect x="434" y="0" width="1" height="199" fill="url(#k35)"/><rect x="435" y="0" width="1" height="199" fill="url(#k36)"/><rect x="436" y="0" width="1" height="199" fill="url(#k37)"/><rect x="437" y="0" width="1" height="199" fill="url(#k38)"/><rect x="438" y="0" width="1" height="199" fill="url(#k39)"/><rect x="439" y="0" width="1" height="199" fill="url(#k40)"/><rect x="440" y="0" width="1" height="199" fill="url(#k41)"/><rect x="441" y="0" width="1" height="199" fill="url(#k42)"/><rect x="442" y="0" width="1" height="199" fill="url(#k43)"/><rect x="443" y="0" width="1" height="199" fill="url(#k44)"/><rect x="444" y="0" width="1" height="199" fill="url(#k45)"/><rect x="445" y="0" width="1" height="199" fill="url(#k46)"/><rect x="446" y="0" width="1" height="199" fill="url(#k47)"/><rect x="447" y="0" width="1" height="199" fill="url(#k48)"/><rect x="448" y="0" width="1" height="199" fill="url(#k49)"/><rect x="449" y="0" width="1" height="199" fill="url(#k50)"/><rect x="450" y="0" width="1" height="199" fill="url(#k51)"/><rect x="451" y="0" width="1" height="199" fill="url(#k52)"/><rect x="452" y="0" width="1" height="199" fill="url(#k53)"/><rect x="453" y="0" width="1" height="199" fill="url(#k54)"/><rect x="454" y="0" width="1" height="199" fill="url(#k55)"/><rect x="455" y="0" width="1" height="199" fill="url(#k56)"/><rect x="456" y="0" width="1" height="199" fill="url(#k57)"/><rect x="457" y="0" width="1" height="199" fill="url(#k58)"/><rect x="458" y="0" width="1" height="199" fill="url(#k59)"/><rect x="459" y="0" width="1" height="199" fill="url(#k60)"/><rect x="460" y="0" width="1" height="199" fill="url(#k61)"/><rect x="461" y="0" width="1" height="199" fill="url(#k62)"/><rect x="462" y="0" width="1" height="199" fill="url(#k63)"/><rect x="463" y="0" width="1" height="199" fill="url(#k64)"/><rect x="464" y="0" width="1" height="199" fill="url(#k65)"/><rect x="465" y="0" width="1" height="199" fill="url(#k66)"/><rect x="466" y="0" width="1" height="199" fill="url(#k67)"/><rect x="467" y="0" width="1" height="199" fill="url(#k68)"/><rect x="468" y="0" width="1" height="199" fill="url(#k69)"/><rect x="469" y="0" width="1" height="199" fill="url(#k70)"/><rect x="470" y="0" width="1" height="199" fill="url(#k71)"/><rect x="471" y="0" width="1" height="199" fill="url(#k72)"/><rect x="472" y="0" width="1" height="199" fill="url(#k73)"/><rect x="473" y="0" width="1" height="199" fill="url(#k74)"/><rect x="474" y="0" width="1" height="199" fill="url(#k75)"/><rect x="475" y="0" width="1" height="199" fill="url(#k76)"/><rect x="476" y="0" width="1" height="199" fill="url(#k77)"/><rect x="477" y="0" width="1" height="199" fill="url(#k78)"/><rect x="478" y="0" width="1" height="199" fill="url(#k79)"/><rect x="479" y="0" width="1" height="199" fill="url(#k80)"/><rect x="480" y="0" width="1" height="199" fill="url(#k81)"/><rect x="481" y="0" width="1" height="199" fill="url(#k82)"/><rect x="482" y="0" width="1" height="199" fill="url(#k83)"/><rect x="483" y="0" width="1" height="199" fill="url(#k84)"/><rect x="484" y="0" width="1" height="199" fill="url(#k85)"/><rect x="485" y="0" width="1" height="199" fill="url(#k86)"/><rect x="486" y="0" width="1" height="199" fill="url(#k87)"/><rect x="487" y="0" width="1" height="199" fill="url(#k88)"/><rect x="488" y="0" width="1" height="199" fill="url(#k89)"/><rect x="489" y="0" width="1" height="199" fill="url(#k90)"/><rect x="490" y="0" width="1" height="199" fill="url(#k91)"/><rect x="491" y="0" width="1" height="199" fill="url(#k92)"/><rect x="492" y="0" width="1" height="199" fill="url(#k93)"/><rect x="493" y="0" width="1" height="199" fill="url(#k94)"/><rect x="494" y="0" width="1" height="199" fill="url(#k95)"/><rect x="495" y="0" width="1" height="199" fill="url(#k96)"/><rect x="496" y="0" width="1" height="199" fill="url(#k97)"/><rect x="497" y="0" width="1" height="199" fill="url(#k98)"/><rect x="498" y="0" width="1" height="199" fill="url(#k99)"/><rect x="499" y="0" width="1" height="199" fill="url(#k100)"/><rect x="500" y="0" width="1" height="199" fill="url(#k101)"/><rect x="501" y="0" width="1" height="199" fill="url(#k102)"/><rect x="502" y="0" width="1" height="199" fill="url(#k103)"/><rect x="503" y="0" width="1" height="199" fill="url(#k104)"/><rect x="504" y="0" width="1" height="199" fill="url(#k105)"/><rect x="505" y="0" width="1" height="199" fill="url(#k106)"/><rect x="506" y="0" width="1" height="199" fill="url(#k107)"/><rect x="507" y="0" width="1" height="199" fill="url(#k108)"/><rect x="508" y="0" width="1" height="199" fill="url(#k109)"/><rect x="509" y="0" width="1" height="199" fill="url(#k110)"/><rect x="510" y="0" width="1" height="199" fill="url(#k111)"/><rect x="511" y="0" width="1" height="199" fill="url(#k112)"/><rect x="512" y="0" width="1" height="199" fill="url(#k113)"/><rect x="513" y="0" width="1" height="199" fill="url(#k114)"/><rect x="514" y="0" width="1" height="199" fill="url(#k115)"/><rect x="515" y="0" width="1" height="199" fill="url(#k116)"/><rect x="516" y="0" width="1" height="199" fill="url(#k117)"/><rect x="517" y="0" width="1" height="199" fill="url(#k118)"/><rect x="518" y="0" width="1" height="199" fill="url(#k119)"/><rect x="519" y="0" width="1" height="199" fill="url(#k120)"/><rect x="520" y="0" width="1" height="199" fill="url(#k121)"/><rect x="521" y="0" width="1" height="199" fill="url(#k122)"/><rect x="522" y="0" width="1" height="199" fill="url(#k123)"/><rect x="523" y="0" width="1" height="199" fill="url(#k124)"/><rect x="524" y="0" width="1" height="199" fill="url(#k125)"/><rect x="525" y="0" width="1" height="199" fill="url(#k126)"/><rect x="526" y="0" width="1" height="199" fill="url(#k127)"/><rect x="527" y="0" width="1" height="199" fill="url(#k128)"/><rect x="528" y="0" width="1" height="199" fill="url(#k129)"/><rect x="529" y="0" width="1" height="199" fill="url(#k130)"/><rect x="530" y="0" width="1" height="199" fill="url(#k131)"/><rect x="531" y="0" width="1" height="199" fill="url(#k132)"/><rect x="532" y="0" width="1" height="199" fill="url(#k133)"/><rect x="533" y="0" width="1" height="199" fill="url(#k134)"/><rect x="534" y="0" width="1" height="199" fill="url(#k135)"/><rect x="535" y="0" width="1" height="199" fill="url(#k136)"/><rect x="536" y="0" width="1" height="199" fill="url(#k137)"/><rect x="537" y="0" width="1" height="199" fill="url(#k138)"/><rect x="538" y="0" width="1" height="199" fill="url(#k139)"/><rect x="539" y="0" width="1" height="199" fill="url(#k140)"/><rect x="540" y="0" width="1" height="199" fill="url(#k141)"/><rect x="541" y="0" width="1" height="199" fill="url(#k142)"/><rect x="542" y="0" width="1" height="199" fill="url(#k143)"/><rect x="543" y="0" width="1" height="199" fill="url(#k144)"/><rect x="544" y="0" width="1" height="199" fill="url(#k145)"/><rect x="545" y="0" width="1" height="199" fill="url(#k146)"/><rect x="546" y="0" width="1" height="199" fill="url(#k147)"/><rect x="547" y="0" width="1" height="199" fill="url(#k148)"/><rect x="548" y="0" width="1" height="199" fill="url(#k149)"/><rect x="549" y="0" width="1" height="199" fill="url(#k150)"/><rect x="550" y="0" width="1" height="199" fill="url(#k151)"/><rect x="551" y="0" width="1" height="199" fill="url(#k152)"/><rect x="552" y="0" width="1" height="199" fill="url(#k153)"/><rect x="553" y="0" width="1" height="199" fill="url(#k154)"/><rect x="554" y="0" width="1" height="199" fill="url(#k155)"/><rect x="555" y="0" width="1" height="199" fill="url(#k156)"/><rect x="556" y="0" width="1" height="199" fill="url(#k157)"/><rect x="557" y="0" width="1" height="199" fill="url(#k158)"/><rect x="558" y="0" width="1" height="199" fill="url(#k159)"/><rect x="559" y="0" width="1" height="199" fill="url(#k160)"/><rect x="560" y="0" width="1" height="199" fill="url(#k161)"/><rect x="561" y="0" width="1" height="199" fill="url(#k162)"/><rect x="562" y="0" width="1" height="199" fill="url(#k163)"/><rect x="563" y="0" width="1" height="199" fill="url(#k164)"/><rect x="564" y="0" width="1" height="199" fill="url(#k165)"/><rect x="565" y="0" width="1" height="199" fill="url(#k166)"/><rect x="566" y="0" width="1" height="199" fill="url(#k167)"/><rect x="567" y="0" width="1" height="199" fill="url(#k168)"/><rect x="568" y="0" width="1" height="199" fill="url(#k169)"/><rect x="569" y="0" width="1" height="199" fill="url(#k170)"/><rect x="570" y="0" width="1" height="199" fill="url(#k171)"/>
<rect x="494.78" y="0.8" width="40.48" height="198" fill="rgba(255,0,0,0.28)"/>
<path d="M453.1 198.9V190.63H462.7V182.37H455.5V174.11H469.2V165.84H454.4V157.57H454.4V149.31H448.4V141.05H450.8V132.78" stroke="#fff" stroke-width="1.5" fill="none" stroke-dasharray="5.55 2.4"/>
<path d="M456.6 124.52V116.25H450.5V107.99H457.3V99.72H456.7V91.45H449.8V83.19H459.1V74.92H453.4V66.66H450.7V58.4H456.7V50.13" stroke="#fff" stroke-width="1.5" fill="none" stroke-dasharray="5.55 2.4"/>
<path d="M471.3 41.87V33.6" stroke="#fff" stroke-width="1.5" fill="none" stroke-dasharray="5.55 2.4"/>
<path d="M454.9 25.34V17.07" stroke="#fff" stroke-width="1.5" fill="none" stroke-dasharray="5.55 2.4"/>
<path d="M460.9 8.81V0.54" stroke="#fff" stroke-width="1.5" fill="none" stroke-dasharray="5.55 2.4"/>
<path d="M502.6 198.9V190.63H483.5V182.37H494.8V174.11H477.6V165.84H498.7V157.57H498.7V149.31H515.8V141.05H508.9V132.78" stroke="#fff" stroke-width="1.5" fill="none" stroke-dasharray="5.55 2.4"/>
<path d="M491.7 124.52V116.25H510V107.99H490.5V99.72H490.7V91.45H511.5V83.19H487.1V74.92H502.2V66.66H509.7V58.4H492.1V50.13" stroke="#fff" stroke-width="1.5" fill="none" stroke-dasharray="5.55 2.4"/>
<path d="M476.2 41.87V33.6" stroke="#fff" stroke-width="1.5" fill="none" stroke-dasharray="5.55 2.4"/>
<path d="M497.7 25.34V17.07" stroke="#fff" stroke-width="1.5" fill="none" stroke-dasharray="5.55 2.4"/>
<path d="M485 8.81V0.54" stroke="#fff" stroke-width="1.5" fill="none" stroke-dasharray="5.55 2.4"/>
</g>
<linearGradient id="vb" x1="0" y1="0" x2="0" y2="1"><stop offset="0" stop-color="#fde725"/><stop offset="0.06" stop-color="#d8e219"/><stop offset="0.12" stop-color="#addc30"/><stop offset="0.19" stop-color="#84d44b"/><stop offset="0.25" stop-color="#5ec962"/><stop offset="0.31" stop-color="#3fbc73"/><stop offset="0.38" stop-color="#28ae80"/><stop offset="0.44" stop-color="#1fa088"/><stop offset="0.5" stop-color="#21918c"/><stop offset="0.56" stop-color="#26828e"/><stop offset="0.62" stop-color="#2c728e"/><stop offset="0.69" stop-color="#34608d"/><stop offset="0.75" stop-color="#3b528b"/><stop offset="0.81" stop-color="#414487"/><stop offset="0.88" stop-color="#472f7d"/><stop offset="0.94" stop-color="#481a6c"/><stop offset="1" stop-color="#440154"/></linearGradient>
<rect x="409.4" y="147.5" width="6.6" height="39.4" fill="url(#vb)" stroke="#000" stroke-width="1.3"/>
<path d="M410.5 166.5H415M410.5 186.4H415" stroke="#fff" stroke-width="1.3"/>
<text x="421.5" y="172.3" text-anchor="start" font-size="15.6" fill="#fff">−20</text>
<text x="421.5" y="192.2" text-anchor="start" font-size="15.6" fill="#fff">−40</text>
<text x="405" y="137.6" text-anchor="start" font-size="15.6" fill="#fff">dB</text>
<rect x="398.9" y="0.8" width="171.3" height="198" fill="none" stroke="#000" stroke-width="1.7"/>
<path d="M403.7 198.8V193.6M403.7 0.8V6M454.3 198.8V193.6M454.3 0.8V6M504.9 198.8V193.6M504.9 0.8V6M555.5 198.8V193.6M555.5 0.8V6M398.9 198.9H404.1M570.2 198.9H565M398.9 143.8H404.1M570.2 143.8H565M398.9 88.7H404.1M570.2 88.7H565M398.9 33.6H404.1M570.2 33.6H565" stroke="#000" stroke-width="1.2" fill="none"/>
<text x="394.1" y="204.45" text-anchor="end" font-size="16" fill="#000" transform="translate(0 198.95) scale(1 1.05) translate(0 -198.95)">0</text>
<text x="394.1" y="149.35" text-anchor="end" font-size="16" fill="#000" transform="translate(0 143.85) scale(1 1.05) translate(0 -143.85)">2</text>
<text x="394.1" y="94.25" text-anchor="end" font-size="16" fill="#000" transform="translate(0 88.75) scale(1 1.05) translate(0 -88.75)">4</text>
<text x="394.1" y="39.15" text-anchor="end" font-size="16" fill="#000" transform="translate(0 33.65) scale(1 1.05) translate(0 -33.65)">6</text>
<text x="403.7" y="215.9" text-anchor="middle" font-size="16" fill="#000" transform="translate(0 210.4) scale(1 1.05) translate(0 -210.4)">1.0</text>
<text x="454.3" y="215.9" text-anchor="middle" font-size="16" fill="#000" transform="translate(0 210.4) scale(1 1.05) translate(0 -210.4)">1.5</text>
<text x="504.9" y="215.9" text-anchor="middle" font-size="16" fill="#000" transform="translate(0 210.4) scale(1 1.05) translate(0 -210.4)">2.0</text>
<text x="555.5" y="215.9" text-anchor="middle" font-size="16" fill="#000" transform="translate(0 210.4) scale(1 1.05) translate(0 -210.4)">2.5</text>
<text x="484.6" y="235.6" text-anchor="middle" font-size="15.6" fill="#000">wavelength [µm]</text>
<text x="375.4" y="99.3" text-anchor="middle" font-size="15.6" transform="rotate(-90 375.4 99.3)">propagation distance [cm]</text>
<rect x="398.4" y="0.5" width="21.7" height="22.4" fill="#000"/><text x="399.4" y="16" font-size="15.8" fill="#fff">(b)</text>
<rect x="594.6" y="0.8" width="68.3" height="197.9" fill="none" stroke="#000" stroke-width="1.7"/>
<path d="M617.3 198.7V193.5M617.3 0.8V6M647.8 198.7V193.5M647.8 0.8V6M594.6 198.9H599.8M662.9 198.9H657.7M594.6 143.8H599.8M662.9 143.8H657.7M594.6 88.7H599.8M662.9 88.7H657.7M594.6 33.6H599.8M662.9 33.6H657.7" stroke="#000" stroke-width="1.1" fill="none"/>
<path d="M602.05 198.7V0.8M655.42 198.7V0.8" stroke="#000" stroke-width="1.5" stroke-dasharray="5.5 2.4" fill="none"/>
<path d="M626.4 198.8V190.63H647.6V182.37H636.2V174.11H651.5V165.84H630.8V157.57H630.8V149.31H606.7V141.05H618.7V132.78H654.2V124.52H640V116.25H616.5V107.99H641.7V99.72H641.5V91.45H614.4V83.19H644.5V74.92H626.8V66.66H617V58.4H639.5V50.13H654.8V41.87H652.6V33.6H654.2V25.34H632.3V17.07H655.3V8.81H646.1V0.54" stroke="#20a072" stroke-width="2" fill="none" stroke-linejoin="miter"/>
<rect x="594.2" y="0.5" width="19.6" height="20.3" fill="#000"/><text x="594.9" y="14.6" font-size="15.8" fill="#fff">(c)</text>
<text x="617.3" y="215.9" text-anchor="middle" font-size="16" fill="#000" transform="translate(0 210.4) scale(1 1.05) translate(0 -210.4)">20</text>
<text x="647.8" y="215.9" text-anchor="middle" font-size="16" fill="#000" transform="translate(0 210.4) scale(1 1.05) translate(0 -210.4)">40</text>
<text x="628.7" y="235.5" text-anchor="middle" font-size="15.6" fill="#000">temperature [°C]</text>
<rect x="47.7" y="264.9" width="70.93" height="15.62" fill="#dfe31b"/><rect x="118.23" y="264.9" width="70.93" height="15.62" fill="#70ce57"/><rect x="188.77" y="264.9" width="70.93" height="15.62" fill="#7cd250"/><rect x="47.7" y="280.12" width="70.93" height="15.62" fill="#ebe51f"/><rect x="118.23" y="280.12" width="70.93" height="15.62" fill="#b4dd2c"/><rect x="188.77" y="280.12" width="70.93" height="15.62" fill="#3cba75"/><rect x="47.7" y="295.33" width="70.93" height="15.62" fill="#eee520"/><rect x="118.23" y="295.33" width="70.93" height="15.62" fill="#b7dd2a"/><rect x="188.77" y="295.33" width="70.93" height="15.62" fill="#89d548"/><rect x="47.7" y="310.55" width="70.93" height="15.62" fill="#f4e622"/><rect x="118.23" y="310.55" width="70.93" height="15.62" fill="#e5e41d"/><rect x="188.77" y="310.55" width="70.93" height="15.62" fill="#bede27"/><rect x="47.7" y="325.76" width="70.93" height="15.62" fill="#eee520"/><rect x="118.23" y="325.76" width="70.93" height="15.62" fill="#b7dd2a"/><rect x="188.77" y="325.76" width="70.93" height="15.62" fill="#4fc36a"/><rect x="47.7" y="340.98" width="70.93" height="15.62" fill="#e5e41d"/><rect x="118.23" y="340.98" width="70.93" height="15.62" fill="#a3da36"/><rect x="188.77" y="340.98" width="70.93" height="15.62" fill="#2aaf7f"/><rect x="47.7" y="356.19" width="70.93" height="15.62" fill="#e5e41d"/><rect x="118.23" y="356.19" width="70.93" height="15.62" fill="#59c765"/><rect x="188.77" y="356.19" width="70.93" height="15.62" fill="#23a684"/><rect x="47.7" y="371.41" width="70.93" height="15.62" fill="#9dd93b"/><rect x="118.23" y="371.41" width="70.93" height="15.62" fill="#21918c"/><rect x="188.77" y="371.41" width="70.93" height="15.62" fill="#297b8e"/><rect x="47.7" y="386.62" width="70.93" height="15.62" fill="#70ce57"/><rect x="118.23" y="386.62" width="70.93" height="15.62" fill="#24a883"/><rect x="188.77" y="386.62" width="70.93" height="15.62" fill="#2f6b8e"/><rect x="47.7" y="401.84" width="70.93" height="15.62" fill="#d3e11c"/><rect x="118.23" y="401.84" width="70.93" height="15.62" fill="#27808e"/><rect x="188.77" y="401.84" width="70.93" height="15.62" fill="#30688d"/><rect x="47.7" y="417.05" width="70.93" height="15.62" fill="#b4dd2c"/><rect x="118.23" y="417.05" width="70.93" height="15.62" fill="#209b89"/><rect x="188.77" y="417.05" width="70.93" height="15.62" fill="#375b8c"/><rect x="47.7" y="432.27" width="70.93" height="15.62" fill="#45bf70"/><rect x="118.23" y="432.27" width="70.93" height="15.62" fill="#287e8e"/><rect x="188.77" y="432.27" width="70.93" height="15.62" fill="#3e4b89"/><rect x="47.7" y="447.48" width="70.93" height="15.62" fill="#76d053"/><rect x="118.23" y="447.48" width="70.93" height="15.62" fill="#3e4b89"/><rect x="188.77" y="447.48" width="70.93" height="15.62" fill="#45095c"/>
<rect x="398.8" y="264.9" width="70.77" height="15.62" fill="#2f6b8e"/><rect x="469.17" y="264.9" width="70.77" height="15.62" fill="#38598c"/><rect x="539.53" y="264.9" width="70.77" height="15.62" fill="#30688d"/><rect x="398.8" y="280.12" width="70.77" height="15.62" fill="#24878d"/><rect x="469.17" y="280.12" width="70.77" height="15.62" fill="#24878d"/><rect x="539.53" y="280.12" width="70.77" height="15.62" fill="#27808e"/><rect x="398.8" y="295.33" width="70.77" height="15.62" fill="#f1e521"/><rect x="469.17" y="295.33" width="70.77" height="15.62" fill="#5ec962"/><rect x="539.53" y="295.33" width="70.77" height="15.62" fill="#20968b"/><rect x="398.8" y="310.55" width="70.77" height="15.62" fill="#8fd643"/><rect x="469.17" y="310.55" width="70.77" height="15.62" fill="#54c567"/><rect x="539.53" y="310.55" width="70.77" height="15.62" fill="#1f9d89"/><rect x="398.8" y="325.76" width="70.77" height="15.62" fill="#20a287"/><rect x="469.17" y="325.76" width="70.77" height="15.62" fill="#287e8e"/><rect x="539.53" y="325.76" width="70.77" height="15.62" fill="#238a8d"/><rect x="398.8" y="340.98" width="70.77" height="15.62" fill="#2d718e"/><rect x="469.17" y="340.98" width="70.77" height="15.62" fill="#2a788e"/><rect x="539.53" y="340.98" width="70.77" height="15.62" fill="#2c738e"/><rect x="398.8" y="356.19" width="70.77" height="15.62" fill="#345f8d"/><rect x="469.17" y="356.19" width="70.77" height="15.62" fill="#39568c"/><rect x="539.53" y="356.19" width="70.77" height="15.62" fill="#2f6b8e"/><rect x="398.8" y="371.41" width="70.77" height="15.62" fill="#414587"/><rect x="469.17" y="371.41" width="70.77" height="15.62" fill="#3c508a"/><rect x="539.53" y="371.41" width="70.77" height="15.62" fill="#2f6b8e"/><rect x="398.8" y="386.62" width="70.77" height="15.62" fill="#39568c"/><rect x="469.17" y="386.62" width="70.77" height="15.62" fill="#424186"/><rect x="539.53" y="386.62" width="70.77" height="15.62" fill="#3b528b"/><rect x="398.8" y="401.84" width="70.77" height="15.62" fill="#24878d"/><rect x="469.17" y="401.84" width="70.77" height="15.62" fill="#2c738e"/><rect x="539.53" y="401.84" width="70.77" height="15.62" fill="#2f6b8e"/><rect x="398.8" y="417.05" width="70.77" height="15.62" fill="#45bf70"/><rect x="469.17" y="417.05" width="70.77" height="15.62" fill="#21918c"/><rect x="539.53" y="417.05" width="70.77" height="15.62" fill="#2d718e"/><rect x="398.8" y="432.27" width="70.77" height="15.62" fill="#76d053"/><rect x="469.17" y="432.27" width="70.77" height="15.62" fill="#2b768e"/><rect x="539.53" y="432.27" width="70.77" height="15.62" fill="#27808e"/><rect x="398.8" y="447.48" width="70.77" height="15.62" fill="#26838e"/><rect x="469.17" y="447.48" width="70.77" height="15.62" fill="#297b8e"/><rect x="539.53" y="447.48" width="70.77" height="15.62" fill="#297b8e"/>
<rect x="118.23" y="310.55" width="70.53" height="15.2" fill="none" stroke="#e8151b" stroke-width="1.6"/>
<rect x="469.17" y="310.55" width="70.37" height="15.2" fill="none" stroke="#e8151b" stroke-width="1.6"/>
<rect x="47.7" y="264.9" width="211.6" height="197.8" fill="none" stroke="#000" stroke-width="1.7"/>
<path d="M82.97 462.7V457.5M82.97 264.9V270.1M153.5 462.7V457.5M153.5 264.9V270.1M224.03 462.7V457.5M224.03 264.9V270.1M47.7 439.88H52.9M259.3 439.88H254.1M47.7 409.45H52.9M259.3 409.45H254.1M47.7 379.02H52.9M259.3 379.02H254.1M47.7 348.58H52.9M259.3 348.58H254.1M47.7 318.15H52.9M259.3 318.15H254.1M47.7 287.72H52.9M259.3 287.72H254.1" stroke="#000" stroke-width="1.1" fill="none"/>
<text x="82.97" y="479.4" text-anchor="middle" font-size="16" fill="#000" transform="translate(0 473.9) scale(1 1.05) translate(0 -473.9)">200</text>
<text x="153.5" y="479.4" text-anchor="middle" font-size="16" fill="#000" transform="translate(0 473.9) scale(1 1.05) translate(0 -473.9)">400</text>
<text x="224.03" y="479.4" text-anchor="middle" font-size="16" fill="#000" transform="translate(0 473.9) scale(1 1.05) translate(0 -473.9)">600</text>
<text x="42.7" y="445.53" text-anchor="end" font-size="16" fill="#000" transform="translate(0 440.03) scale(1 1.05) translate(0 -440.03)">1.3</text>
<text x="42.7" y="415.1" text-anchor="end" font-size="16" fill="#000" transform="translate(0 409.6) scale(1 1.05) translate(0 -409.6)">1.5</text>
<text x="42.7" y="384.67" text-anchor="end" font-size="16" fill="#000" transform="translate(0 379.17) scale(1 1.05) translate(0 -379.17)">1.7</text>
<text x="42.7" y="354.24" text-anchor="end" font-size="16" fill="#000" transform="translate(0 348.73) scale(1 1.05) translate(0 -348.73)">1.9</text>
<text x="42.7" y="323.81" text-anchor="end" font-size="16" fill="#000" transform="translate(0 318.3) scale(1 1.05) translate(0 -318.3)">2.1</text>
<text x="42.7" y="293.38" text-anchor="end" font-size="16" fill="#000" transform="translate(0 287.87) scale(1 1.05) translate(0 -287.87)">2.3</text>
<rect x="398.8" y="264.9" width="211.1" height="197.8" fill="none" stroke="#000" stroke-width="1.7"/>
<path d="M433.98 462.7V457.5M433.98 264.9V270.1M504.35 462.7V457.5M504.35 264.9V270.1M574.72 462.7V457.5M574.72 264.9V270.1M398.8 439.88H404M609.9 439.88H604.7M398.8 409.45H404M609.9 409.45H604.7M398.8 379.02H404M609.9 379.02H604.7M398.8 348.58H404M609.9 348.58H604.7M398.8 318.15H404M609.9 318.15H604.7M398.8 287.72H404M609.9 287.72H604.7" stroke="#000" stroke-width="1.1" fill="none"/>
<text x="433.98" y="479.4" text-anchor="middle" font-size="16" fill="#000" transform="translate(0 473.9) scale(1 1.05) translate(0 -473.9)">200</text>
<text x="504.35" y="479.4" text-anchor="middle" font-size="16" fill="#000" transform="translate(0 473.9) scale(1 1.05) translate(0 -473.9)">400</text>
<text x="574.72" y="479.4" text-anchor="middle" font-size="16" fill="#000" transform="translate(0 473.9) scale(1 1.05) translate(0 -473.9)">600</text>
<text x="393.8" y="445.53" text-anchor="end" font-size="16" fill="#000" transform="translate(0 440.03) scale(1 1.05) translate(0 -440.03)">1.3</text>
<text x="393.8" y="415.1" text-anchor="end" font-size="16" fill="#000" transform="translate(0 409.6) scale(1 1.05) translate(0 -409.6)">1.5</text>
<text x="393.8" y="384.67" text-anchor="end" font-size="16" fill="#000" transform="translate(0 379.17) scale(1 1.05) translate(0 -379.17)">1.7</text>
<text x="393.8" y="354.24" text-anchor="end" font-size="16" fill="#000" transform="translate(0 348.73) scale(1 1.05) translate(0 -348.73)">1.9</text>
<text x="393.8" y="323.81" text-anchor="end" font-size="16" fill="#000" transform="translate(0 318.3) scale(1 1.05) translate(0 -318.3)">2.1</text>
<text x="393.8" y="293.38" text-anchor="end" font-size="16" fill="#000" transform="translate(0 287.87) scale(1 1.05) translate(0 -287.87)">2.3</text>
<rect x="47.2" y="264.3" width="22.6" height="20.7" fill="#000"/><text x="48.8" y="278.7" font-size="15.8" fill="#fff">(d)</text>
<rect x="398.3" y="264.3" width="22.4" height="20.5" fill="#000"/><text x="399.8" y="278.7" font-size="15.8" fill="#fff">(e)</text>
<text x="154" y="499.5" text-anchor="middle" font-size="15.6" fill="#000">intervall size [nm]</text>
<text x="504.5" y="499.5" text-anchor="middle" font-size="15.6" fill="#000">interval size [nm]</text>
<text x="11.5" y="364.2" text-anchor="middle" font-size="15.6" transform="rotate(-90 11.5 364.2)">target wavelength [µm]</text>
<text x="362.7" y="364.2" text-anchor="middle" font-size="15.6" transform="rotate(-90 362.7 364.2)">target wavelength [µm]</text>
<linearGradient id="vd" x1="0" y1="0" x2="0" y2="1"><stop offset="0" stop-color="#fde725"/><stop offset="0.06" stop-color="#d8e219"/><stop offset="0.12" stop-color="#addc30"/><stop offset="0.19" stop-color="#84d44b"/><stop offset="0.25" stop-color="#5ec962"/><stop offset="0.31" stop-color="#3fbc73"/><stop offset="0.38" stop-color="#28ae80"/><stop offset="0.44" stop-color="#1fa088"/><stop offset="0.5" stop-color="#21918c"/><stop offset="0.56" stop-color="#26828e"/><stop offset="0.62" stop-color="#2c728e"/><stop offset="0.69" stop-color="#34608d"/><stop offset="0.75" stop-color="#3b528b"/><stop offset="0.81" stop-color="#414487"/><stop offset="0.88" stop-color="#472f7d"/><stop offset="0.94" stop-color="#481a6c"/><stop offset="1" stop-color="#440154"/></linearGradient>
<rect x="272.6" y="264.9" width="9.7" height="197.8" fill="url(#vd)" stroke="#000" stroke-width="1.7"/>
<rect x="623.2" y="264.9" width="10" height="197.8" fill="url(#vd)" stroke="#000" stroke-width="1.7"/>
<path d="M282.3 321.41H278.0M282.3 377.93H278.0M282.3 434.44H278.0" stroke="#000" stroke-width="1.2"/>
<text x="287.9" y="270.8" text-anchor="start" font-size="16" fill="#000" transform="translate(0 265.3) scale(1 1.05) translate(0 -265.3)">0.0</text>
<text x="287.9" y="327.32" text-anchor="start" font-size="16" fill="#000" transform="translate(0 321.81) scale(1 1.05) translate(0 -321.81)">0.2</text>
<text x="287.9" y="383.83" text-anchor="start" font-size="16" fill="#000" transform="translate(0 378.33) scale(1 1.05) translate(0 -378.33)">0.4</text>
<text x="287.9" y="440.35" text-anchor="start" font-size="16" fill="#000" transform="translate(0 434.84) scale(1 1.05) translate(0 -434.84)">0.6</text>
<path d="M633.2 462.6H628.7M633.2 438.52H630.6M633.2 424.43H630.6M633.2 414.44H630.6M633.2 406.68H630.6M633.2 400.35H630.6M633.2 394.99H630.6M633.2 390.35H630.6M633.2 386.26H630.6M633.2 382.6H628.7M633.2 358.52H630.6M633.2 344.43H630.6M633.2 334.44H630.6M633.2 326.68H630.6M633.2 320.35H630.6M633.2 314.99H630.6M633.2 310.35H630.6M633.2 306.26H630.6M633.2 302.6H628.7M633.2 278.52H630.6" stroke="#000" stroke-width="1.0"/>
<text x="638.7" y="468.7" text-anchor="start" font-size="16" fill="#000" transform="translate(0 463.2) scale(1 1.05) translate(0 -463.2)">0.1</text>
<text x="638.7" y="388.7" text-anchor="start" font-size="16" fill="#000" transform="translate(0 383.2) scale(1 1.05) translate(0 -383.2)">1</text>
<text x="638.7" y="308.7" text-anchor="start" font-size="16" fill="#000" transform="translate(0 303.2) scale(1 1.05) translate(0 -303.2)">10</text>
<text x="328.3" y="363.7" text-anchor="middle" font-size="15.6" transform="rotate(-90 328.3 363.7)">flatness</text>
<text x="679.6" y="363.2" text-anchor="middle" font-size="15.6" transform="rotate(-90 679.6 363.2)">enhancement</text>
</svg>
</body></html>
